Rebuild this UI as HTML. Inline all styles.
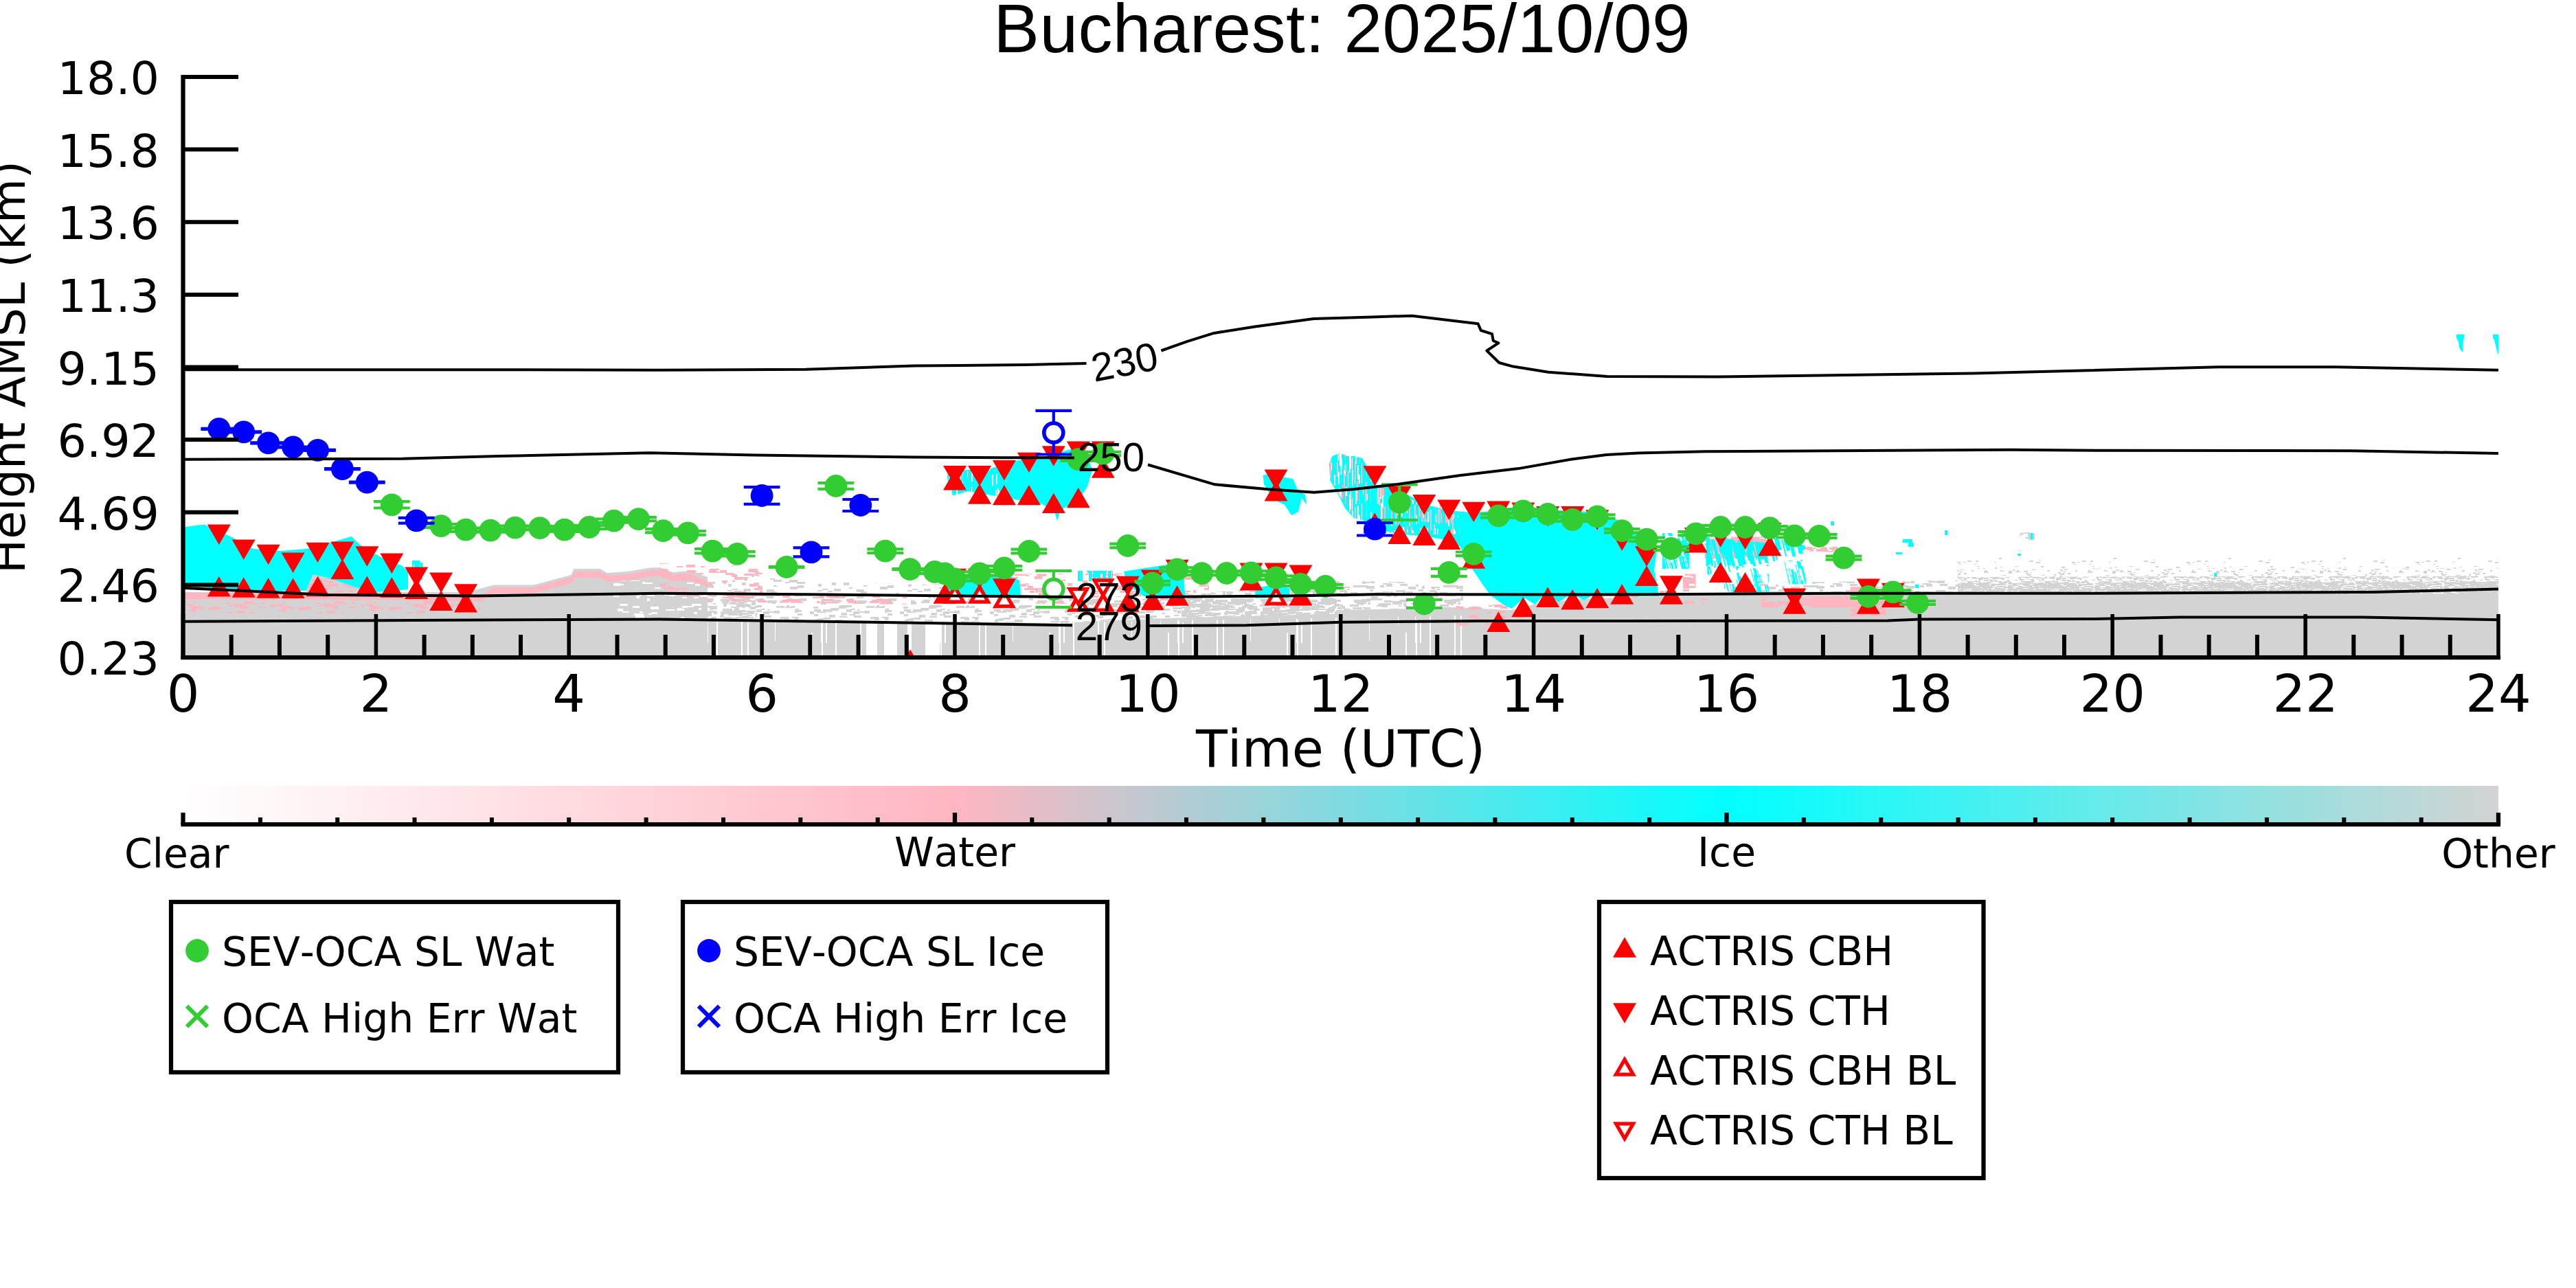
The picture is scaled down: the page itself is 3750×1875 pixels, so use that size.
<!DOCTYPE html>
<html><head><meta charset="utf-8"><title>Bucharest: 2025/10/09</title>
<style>
html,body{margin:0;padding:0;background:#fff;}
body{width:3750px;height:1875px;overflow:hidden;}
svg{display:block;}
text{font-family:"DejaVu Sans","Liberation Sans",sans-serif;fill:#000;font-kerning:none;}
.lib{font-family:"Liberation Sans",sans-serif;}
</style></head><body>
<svg width="3750" height="1875" viewBox="0 0 3750 1875">
<defs><clipPath id="axclip"><rect x="266.5" y="112.0" width="3370.5" height="845.0"/></clipPath>
<pattern id="p1" width="131" height="67" patternUnits="userSpaceOnUse" ><path fill="#d3d3d3" d="M50 6h9v2h-9zM12 46h5v4h-5zM116 64h13v2h-13zM11 55h7v2h-7zM30 11h10v2h-10zM7 15h12v3h-12zM80 7h7v4h-7zM50 6h13v4h-13zM71 17h7v2h-7zM18 15h8v3h-8zM71 23h13v3h-13zM73 24h5v4h-5zM70 8h9v2h-9zM79 26h13v2h-13zM68 54h11v4h-11zM74 58h9v3h-9zM31 23h9v3h-9zM73 38h7v2h-7zM112 43h12v3h-12zM77 9h11v3h-11zM53 21h5v4h-5zM119 62h9v2h-9zM85 9h10v2h-10zM101 40h12v4h-12zM44 63h9v4h-9zM8 11h13v3h-13zM89 8h8v3h-8zM79 57h4v4h-4zM49 44h8v4h-8zM90 21h4v3h-4zM63 7h13v2h-13zM16 31h7v3h-7zM117 63h10v3h-10zM57 51h5v2h-5zM113 17h12v3h-12zM35 53h10v4h-10zM113 48h9v4h-9zM10 22h7v2h-7zM84 29h6v2h-6zM46 33h4v3h-4zM18 53h8v2h-8zM78 40h12v3h-12zM109 6h6v4h-6zM102 50h11v4h-11zM50 13h10v3h-10zM51 7h11v4h-11zM26 56h7v2h-7zM43 6h6v2h-6zM72 19h5v2h-5zM46 3h12v2h-12zM78 48h5v2h-5zM32 44h6v4h-6zM60 15h13v3h-13zM125 59h5v3h-5zM39 10h11v3h-11zM95 43h6v2h-6zM106 20h8v3h-8z"/></pattern>
<pattern id="p2" width="131" height="67" patternUnits="userSpaceOnUse" ><path fill="#d3d3d3" d="M26 46h12v2h-12zM69 3h6v4h-6zM82 11h12v3h-12zM46 21h8v4h-8zM68 64h9v2h-9zM28 24h9v4h-9zM94 29h7v3h-7zM63 45h7v4h-7zM71 60h4v2h-4zM88 44h8v2h-8zM44 46h11v4h-11zM13 29h5v2h-5zM43 26h11v2h-11zM115 0h11v4h-11zM44 10h11v4h-11zM116 49h14v2h-14zM113 22h7v3h-7zM42 11h10v4h-10zM51 10h10v3h-10zM16 3h6v2h-6zM115 59h6v4h-6zM78 60h14v2h-14zM19 16h14v3h-14zM26 17h4v2h-4zM105 27h10v2h-10zM54 37h4v3h-4zM97 41h12v2h-12zM53 16h8v4h-8zM90 58h4v4h-4zM104 53h14v4h-14zM68 19h12v2h-12zM2 56h12v4h-12zM0 19h6v4h-6zM60 15h6v2h-6zM41 61h12v2h-12zM7 31h5v4h-5zM5 12h7v3h-7zM71 3h12v3h-12zM41 64h5v3h-5zM25 35h13v4h-13zM68 61h11v4h-11zM89 33h12v2h-12zM107 57h12v2h-12zM15 50h6v3h-6zM9 30h11v3h-11zM27 38h10v2h-10zM120 46h5v2h-5zM113 17h6v3h-6zM95 12h11v2h-11zM20 28h10v3h-10zM55 51h6v4h-6zM25 45h9v3h-9zM92 46h9v2h-9zM117 56h4v3h-4zM84 37h4v3h-4zM14 29h12v2h-12zM33 34h5v2h-5zM69 16h4v2h-4zM104 33h10v4h-10zM68 65h10v2h-10zM89 41h13v3h-13zM7 23h5v3h-5zM34 2h10v2h-10zM102 33h14v2h-14zM109 28h5v4h-5zM110 15h5v3h-5zM43 53h11v2h-11zM16 5h8v4h-8zM30 14h12v4h-12zM6 23h6v3h-6zM80 39h7v3h-7zM37 57h12v2h-12zM22 34h12v4h-12zM32 4h9v2h-9zM48 65h4v2h-4zM119 57h11v2h-11zM104 55h5v4h-5zM69 50h14v3h-14zM88 27h12v3h-12zM25 17h7v3h-7zM6 16h10v3h-10zM65 55h4v2h-4zM10 48h6v2h-6zM36 31h12v4h-12zM58 23h8v2h-8zM57 0h6v3h-6zM123 42h8v3h-8zM31 4h12v3h-12zM45 23h8v2h-8zM97 10h4v3h-4zM64 25h11v3h-11zM99 0h7v4h-7zM104 11h5v3h-5zM75 5h6v3h-6zM38 38h10v2h-10zM10 19h14v2h-14zM100 49h14v4h-14zM63 19h9v4h-9zM79 18h8v4h-8zM109 17h4v4h-4z"/></pattern>
<pattern id="p3" width="131" height="67" patternUnits="userSpaceOnUse" ><path fill="#d3d3d3" d="M72 2h12v4h-12zM102 29h14v4h-14zM5 17h5v2h-5zM13 48h14v3h-14zM6 2h11v4h-11zM87 31h14v4h-14zM0 58h11v3h-11zM119 11h5v4h-5zM8 60h14v4h-14zM108 33h8v2h-8zM96 26h7v4h-7zM83 58h7v4h-7zM9 61h11v3h-11zM98 5h14v3h-14zM82 25h13v4h-13zM18 42h5v4h-5zM95 38h8v4h-8zM17 1h13v4h-13zM62 34h11v2h-11zM88 27h14v2h-14zM37 36h14v3h-14zM59 15h11v3h-11zM39 10h12v2h-12zM37 58h11v2h-11zM123 57h5v4h-5zM26 26h8v3h-8zM11 18h5v4h-5zM46 16h12v3h-12zM65 35h13v4h-13zM46 29h5v4h-5zM50 3h11v3h-11zM121 62h6v2h-6zM51 38h14v3h-14zM44 48h6v3h-6zM107 42h9v2h-9zM86 50h4v3h-4zM91 1h5v2h-5zM47 8h8v3h-8zM111 9h10v3h-10zM96 35h9v3h-9zM26 6h4v3h-4zM81 19h14v3h-14zM55 40h7v3h-7zM100 54h7v3h-7zM102 26h4v4h-4zM119 52h5v2h-5zM96 17h11v4h-11zM62 6h14v3h-14zM21 60h12v2h-12zM36 38h10v3h-10zM94 33h8v4h-8zM30 38h10v4h-10zM85 50h11v4h-11zM82 20h5v2h-5zM64 63h5v2h-5zM57 42h12v2h-12zM17 24h11v3h-11zM22 43h7v2h-7zM40 30h12v2h-12zM103 25h9v3h-9zM105 49h4v4h-4zM67 26h10v4h-10zM43 7h10v3h-10zM73 46h11v3h-11zM64 27h6v4h-6zM114 31h5v3h-5zM82 57h10v3h-10zM108 2h10v3h-10zM54 60h6v2h-6zM0 9h13v3h-13zM109 59h10v4h-10zM100 13h11v2h-11zM19 13h7v2h-7zM10 5h14v3h-14zM59 4h4v2h-4zM38 16h14v4h-14zM67 55h14v3h-14zM9 38h5v2h-5zM24 49h12v4h-12zM101 0h8v2h-8zM77 58h4v4h-4zM82 31h8v3h-8zM30 31h11v4h-11zM78 7h4v3h-4zM127 53h4v2h-4zM29 54h5v3h-5zM63 4h9v2h-9zM53 46h9v4h-9zM25 0h14v3h-14zM108 8h8v4h-8zM124 25h7v3h-7zM29 59h8v2h-8zM97 37h7v3h-7zM63 23h5v4h-5zM53 7h7v3h-7zM118 50h13v2h-13zM6 18h4v2h-4zM90 7h10v2h-10zM57 40h6v3h-6zM119 21h5v2h-5zM23 59h9v2h-9zM96 47h4v3h-4zM21 13h9v3h-9zM71 10h4v2h-4zM122 15h9v3h-9zM48 45h12v2h-12zM11 6h8v3h-8zM47 57h11v2h-11zM46 60h7v3h-7zM105 31h4v4h-4zM5 48h14v3h-14zM16 7h4v3h-4zM95 8h8v2h-8zM46 34h13v3h-13zM5 33h9v4h-9zM38 0h9v3h-9zM8 3h13v4h-13zM60 59h7v2h-7zM116 55h10v3h-10zM118 63h11v2h-11zM102 38h6v2h-6zM30 41h6v4h-6zM46 10h9v3h-9zM50 20h12v2h-12zM8 4h7v3h-7zM69 41h11v4h-11zM113 13h6v3h-6zM79 10h5v3h-5zM53 63h7v2h-7zM29 17h11v2h-11zM79 30h10v3h-10zM97 15h12v4h-12zM35 34h8v3h-8zM94 33h9v3h-9zM31 23h7v3h-7zM19 36h7v2h-7zM41 8h13v2h-13zM31 64h10v3h-10zM83 12h12v2h-12zM4 13h14v3h-14zM59 57h4v3h-4zM112 37h9v2h-9zM6 24h7v2h-7z"/></pattern>
<pattern id="p4" width="131" height="67" patternUnits="userSpaceOnUse" ><path fill="#d3d3d3" d="M24 9h13v4h-13zM110 22h9v4h-9zM33 0h11v4h-11zM76 44h5v4h-5zM47 43h7v2h-7zM26 32h6v2h-6zM52 1h4v4h-4zM86 47h9v3h-9zM39 9h6v4h-6zM101 63h7v2h-7zM8 52h12v3h-12zM84 19h5v3h-5zM11 20h14v4h-14zM34 52h10v4h-10zM39 53h8v4h-8zM91 53h4v3h-4zM110 46h10v2h-10zM50 51h14v2h-14zM55 20h7v2h-7zM105 11h10v2h-10zM113 46h10v4h-10zM16 1h11v2h-11zM36 50h4v4h-4zM79 47h5v4h-5zM18 44h12v2h-12zM66 21h8v2h-8zM49 62h5v2h-5zM16 5h7v3h-7zM6 49h11v3h-11zM79 20h5v4h-5zM79 51h14v2h-14zM106 60h13v2h-13zM27 5h6v4h-6zM20 49h10v4h-10zM19 31h9v2h-9zM113 4h7v2h-7zM15 49h14v3h-14zM70 39h13v3h-13zM39 31h14v3h-14zM84 47h10v3h-10zM56 22h11v4h-11zM125 59h4v2h-4zM97 58h7v3h-7zM51 13h6v3h-6zM45 55h5v2h-5zM102 56h9v2h-9zM84 5h12v4h-12zM33 10h4v4h-4zM65 10h9v4h-9zM96 17h4v4h-4zM28 24h4v2h-4zM36 21h6v3h-6zM28 8h14v4h-14zM96 32h9v4h-9zM114 35h6v3h-6zM32 64h11v2h-11zM75 33h11v2h-11zM30 40h13v4h-13zM25 23h9v2h-9zM81 35h10v2h-10zM114 48h14v3h-14zM14 6h6v3h-6zM111 57h14v3h-14zM74 13h12v4h-12zM80 50h8v4h-8zM48 47h9v3h-9zM46 42h13v2h-13zM29 22h5v3h-5zM6 37h13v4h-13zM39 40h12v3h-12zM8 28h4v4h-4zM78 55h6v3h-6zM46 6h10v4h-10zM29 5h6v3h-6zM0 45h4v2h-4zM66 45h8v2h-8zM52 38h12v2h-12zM26 46h13v2h-13zM20 17h13v3h-13zM38 57h4v2h-4zM81 18h5v2h-5zM51 33h14v3h-14zM89 56h4v2h-4zM93 63h13v4h-13zM115 0h7v2h-7zM6 51h4v2h-4zM20 7h6v2h-6zM78 25h5v2h-5zM25 64h6v3h-6zM53 22h14v4h-14zM8 38h12v3h-12zM113 61h14v2h-14zM48 55h12v2h-12zM94 57h11v2h-11zM13 33h6v2h-6zM4 15h7v4h-7zM118 33h9v4h-9zM111 33h4v3h-4zM118 27h8v4h-8zM1 21h5v4h-5zM107 25h8v2h-8zM117 41h6v4h-6zM42 30h7v3h-7zM117 60h10v4h-10zM89 0h11v4h-11zM59 39h4v3h-4zM79 9h7v3h-7zM18 4h13v2h-13zM27 20h4v2h-4zM89 3h9v2h-9zM35 5h4v2h-4zM5 8h5v4h-5zM25 8h13v3h-13zM31 26h10v2h-10zM4 4h7v2h-7zM105 36h14v2h-14zM16 12h11v2h-11zM37 40h14v2h-14zM33 2h9v3h-9zM119 36h9v3h-9zM94 41h4v4h-4zM60 36h13v4h-13zM3 52h13v4h-13zM25 44h4v3h-4zM6 27h11v4h-11zM104 36h5v4h-5zM0 25h6v3h-6zM0 44h8v2h-8zM62 23h11v2h-11zM44 33h11v4h-11zM36 27h13v2h-13zM21 14h7v3h-7zM62 13h14v2h-14zM45 12h14v3h-14zM114 11h10v3h-10zM3 47h10v4h-10zM33 54h7v3h-7zM21 48h12v4h-12zM58 16h14v2h-14zM96 4h12v4h-12zM41 19h9v4h-9zM70 41h11v4h-11zM56 32h6v3h-6zM16 42h13v2h-13zM113 30h11v4h-11zM34 38h12v2h-12zM92 19h13v2h-13zM41 44h7v4h-7zM41 24h6v2h-6zM13 21h8v4h-8zM25 49h14v2h-14zM101 38h6v2h-6zM35 25h8v3h-8zM116 13h5v4h-5zM113 49h8v2h-8zM1 51h11v2h-11zM28 37h10v4h-10zM18 32h11v2h-11zM51 0h13v4h-13zM89 53h7v3h-7zM92 29h7v4h-7zM82 15h14v2h-14zM40 33h11v3h-11zM12 53h14v4h-14zM91 20h7v3h-7zM61 58h8v3h-8zM104 23h4v4h-4zM99 1h14v3h-14zM116 13h10v3h-10zM55 20h4v3h-4zM44 12h7v4h-7zM69 26h13v3h-13zM2 47h11v4h-11zM52 58h12v3h-12zM23 50h7v4h-7zM93 45h12v2h-12zM32 35h14v2h-14zM7 1h10v3h-10zM117 53h5v3h-5zM86 45h14v4h-14zM13 28h13v3h-13zM51 28h8v4h-8zM27 21h10v3h-10zM103 24h6v2h-6zM71 28h11v4h-11zM85 52h6v3h-6zM97 16h11v3h-11zM100 29h11v3h-11zM48 32h8v4h-8zM23 61h10v4h-10zM71 45h4v4h-4zM38 41h7v4h-7zM54 10h11v3h-11zM19 38h14v3h-14zM10 41h10v2h-10zM106 44h6v4h-6zM1 1h14v4h-14zM83 37h7v2h-7zM12 18h8v4h-8zM99 57h7v2h-7zM26 51h9v2h-9zM78 11h12v2h-12zM100 38h14v4h-14zM88 27h7v3h-7zM94 56h12v2h-12zM71 15h14v2h-14zM29 17h8v3h-8zM71 7h11v3h-11zM115 18h11v3h-11zM63 21h11v2h-11zM110 0h12v4h-12zM59 63h6v3h-6zM107 59h14v3h-14zM53 9h9v3h-9zM46 3h6v4h-6zM11 42h4v4h-4zM61 62h5v4h-5zM27 53h6v2h-6zM43 12h14v2h-14zM43 60h14v3h-14zM98 26h12v4h-12zM43 54h8v3h-8zM6 37h8v4h-8zM105 63h8v3h-8zM64 34h10v3h-10zM26 63h12v3h-12zM24 40h5v3h-5zM75 11h8v2h-8zM103 6h4v3h-4zM13 0h10v3h-10zM121 7h4v2h-4zM78 48h12v4h-12zM80 10h13v2h-13zM85 58h7v2h-7zM12 23h14v2h-14zM25 1h4v3h-4zM100 39h9v2h-9zM33 38h12v4h-12zM4 40h6v3h-6zM13 63h4v3h-4zM5 15h13v4h-13zM89 51h10v4h-10zM1 49h11v2h-11zM84 19h13v4h-13zM70 13h11v3h-11zM60 27h5v4h-5zM1 54h6v4h-6zM31 11h4v2h-4zM16 60h7v2h-7zM62 57h4v3h-4zM46 18h6v2h-6zM80 63h5v3h-5zM119 32h11v4h-11zM8 1h4v4h-4zM20 49h4v2h-4zM93 21h8v3h-8zM7 40h11v4h-11zM93 56h9v4h-9zM21 18h11v4h-11zM122 20h5v3h-5zM61 49h14v3h-14zM100 42h11v3h-11zM7 42h8v3h-8zM1 19h13v4h-13zM74 54h13v3h-13zM49 48h7v3h-7zM103 57h13v2h-13zM0 41h8v4h-8zM54 20h8v3h-8zM36 18h13v2h-13zM35 63h13v2h-13zM10 62h9v4h-9zM100 29h10v2h-10zM7 50h8v4h-8zM26 32h11v4h-11zM101 49h13v2h-13zM11 45h11v4h-11zM50 33h5v2h-5zM61 64h12v3h-12zM24 27h13v2h-13zM23 37h7v2h-7zM72 45h9v4h-9zM109 19h10v4h-10zM118 63h7v2h-7zM47 59h9v2h-9zM40 3h5v2h-5zM66 2h9v3h-9zM26 62h5v2h-5zM27 33h13v4h-13zM12 57h8v3h-8zM16 32h13v4h-13zM51 23h4v3h-4zM3 6h10v2h-10zM94 58h4v4h-4zM110 50h11v2h-11zM122 11h5v4h-5zM72 29h8v3h-8z"/></pattern>
<pattern id="p5" width="131" height="67" patternUnits="userSpaceOnUse" ><path fill="#d3d3d3" d="M117 64h14v2h-14zM57 20h10v2h-10zM92 28h9v2h-9zM120 32h6v2h-6zM115 3h9v2h-9zM123 7h4v3h-4zM40 0h5v2h-5zM95 38h7v4h-7zM56 13h13v4h-13zM47 32h11v3h-11zM47 61h10v2h-10zM56 30h10v2h-10zM114 1h6v4h-6zM116 24h11v4h-11zM56 9h4v2h-4zM113 17h13v3h-13zM118 49h11v2h-11zM19 57h4v4h-4zM105 29h9v3h-9zM80 46h11v2h-11zM28 7h6v3h-6zM57 18h6v4h-6zM34 53h11v2h-11zM19 3h10v2h-10zM107 37h8v4h-8zM33 62h9v2h-9zM58 61h5v3h-5zM125 65h5v2h-5zM54 61h4v4h-4zM32 25h8v2h-8zM33 30h9v3h-9zM49 37h7v2h-7zM7 37h10v2h-10zM2 56h6v4h-6zM65 17h12v3h-12zM101 36h11v2h-11zM55 5h6v3h-6zM35 23h10v2h-10zM66 29h6v2h-6zM76 10h6v2h-6zM93 63h5v4h-5zM26 17h8v2h-8zM90 24h13v4h-13zM25 1h13v3h-13zM93 52h5v4h-5zM88 42h4v4h-4zM110 63h8v4h-8zM52 61h5v2h-5zM34 31h6v4h-6zM106 46h6v4h-6zM95 0h4v2h-4zM119 57h9v4h-9zM15 45h12v2h-12zM99 48h7v3h-7zM37 13h13v2h-13zM65 3h11v3h-11zM17 2h12v4h-12zM28 23h7v2h-7zM39 32h6v2h-6zM2 12h12v2h-12zM2 59h7v3h-7zM89 56h12v2h-12zM111 12h5v3h-5zM34 15h6v2h-6zM74 64h11v3h-11zM15 15h8v2h-8zM69 29h10v2h-10zM85 59h7v2h-7zM121 2h10v2h-10zM88 53h14v3h-14zM67 4h13v4h-13zM99 46h10v2h-10zM30 42h9v3h-9zM102 41h10v4h-10zM6 41h10v4h-10zM87 45h12v2h-12zM84 1h7v3h-7zM67 23h9v2h-9zM55 25h5v3h-5zM2 28h12v4h-12zM124 50h6v3h-6zM5 5h11v4h-11zM68 34h4v4h-4zM103 4h14v4h-14zM32 15h13v2h-13zM55 30h12v2h-12zM28 39h4v3h-4zM21 15h9v4h-9zM68 10h4v4h-4zM68 18h11v4h-11zM65 16h11v2h-11zM73 36h8v3h-8zM94 11h8v2h-8zM107 58h12v3h-12zM72 28h13v4h-13zM25 46h14v3h-14zM38 61h11v4h-11zM3 31h11v3h-11zM24 65h9v2h-9zM74 50h12v3h-12zM41 30h4v3h-4zM41 62h9v4h-9zM112 27h8v3h-8zM98 2h8v2h-8zM8 44h6v4h-6zM7 49h11v4h-11zM94 13h11v3h-11zM86 19h12v2h-12zM85 45h10v3h-10zM25 35h6v4h-6zM94 60h12v2h-12zM90 16h8v4h-8zM0 52h10v2h-10zM15 63h12v4h-12zM19 53h10v4h-10zM77 14h8v4h-8zM88 58h10v3h-10zM45 37h8v4h-8zM67 49h9v3h-9zM0 63h14v3h-14zM38 23h10v3h-10zM102 18h12v3h-12zM48 29h10v4h-10zM41 31h5v3h-5zM54 1h9v2h-9zM65 63h4v2h-4zM99 39h8v4h-8zM55 55h12v4h-12zM45 5h10v3h-10zM44 57h13v4h-13zM17 29h4v4h-4zM47 64h5v3h-5zM71 19h10v4h-10zM62 51h7v3h-7zM115 43h11v4h-11zM104 11h12v4h-12zM40 46h6v3h-6zM65 22h5v3h-5zM114 37h5v4h-5zM113 53h9v4h-9zM67 37h14v2h-14zM64 24h12v2h-12zM7 13h10v2h-10zM80 5h9v4h-9zM100 0h10v2h-10zM88 0h8v4h-8zM107 12h8v3h-8zM85 3h13v2h-13zM63 34h7v2h-7zM65 18h14v4h-14zM52 15h13v2h-13zM66 65h6v2h-6zM12 9h5v2h-5zM62 59h6v4h-6zM103 7h13v3h-13zM87 41h14v2h-14zM30 45h6v4h-6zM4 34h8v2h-8zM109 8h14v2h-14zM57 49h9v2h-9zM56 50h4v2h-4zM56 6h13v2h-13zM31 28h13v2h-13zM44 40h4v2h-4zM77 53h4v3h-4zM113 63h13v3h-13zM86 49h5v2h-5zM74 28h14v4h-14zM51 62h10v3h-10zM22 22h4v2h-4zM48 23h6v3h-6zM101 46h4v3h-4zM68 49h5v3h-5zM83 8h9v3h-9zM105 44h5v3h-5zM49 24h12v2h-12zM44 30h11v3h-11zM35 3h10v2h-10zM30 16h9v2h-9zM34 16h5v2h-5zM59 30h12v3h-12zM45 27h6v3h-6zM80 26h10v3h-10zM64 26h8v3h-8zM86 16h7v3h-7zM115 56h8v4h-8zM68 31h13v3h-13zM65 27h10v4h-10zM86 65h6v2h-6zM109 34h5v4h-5zM84 18h10v2h-10zM49 11h8v2h-8zM41 24h6v2h-6zM8 46h14v2h-14zM24 8h12v3h-12zM28 36h8v2h-8zM51 36h6v4h-6zM108 59h9v3h-9zM110 16h14v4h-14zM3 46h8v2h-8zM88 44h14v4h-14zM84 59h10v2h-10zM45 12h7v3h-7zM14 34h6v3h-6zM28 5h13v4h-13zM77 20h10v2h-10zM96 38h10v2h-10zM94 5h6v3h-6zM80 22h12v3h-12zM72 63h13v2h-13zM118 55h12v3h-12zM73 44h14v4h-14zM73 5h4v2h-4zM89 6h13v4h-13zM14 4h7v4h-7zM99 44h9v2h-9zM88 50h5v3h-5zM35 11h13v2h-13zM56 43h9v3h-9zM88 57h12v4h-12zM86 26h12v2h-12zM65 16h10v4h-10zM5 33h11v2h-11zM20 30h6v4h-6zM31 7h12v3h-12zM44 52h6v3h-6zM81 39h5v2h-5zM87 62h6v2h-6zM30 30h14v3h-14zM113 17h4v4h-4zM89 38h14v3h-14zM18 30h6v4h-6zM104 15h9v4h-9zM97 21h12v3h-12zM19 59h14v4h-14zM14 37h10v2h-10zM124 26h4v3h-4zM71 38h4v2h-4zM89 39h7v2h-7zM20 41h11v2h-11zM72 46h11v3h-11zM71 9h8v2h-8zM119 62h4v2h-4zM91 42h5v4h-5zM13 62h13v3h-13zM24 41h10v3h-10zM23 36h4v3h-4zM93 32h14v4h-14zM10 17h14v2h-14zM101 18h4v2h-4zM23 21h8v3h-8zM106 39h5v4h-5zM48 23h13v3h-13zM40 29h14v3h-14zM70 47h9v2h-9zM7 5h8v2h-8zM102 51h5v4h-5zM126 54h4v2h-4zM20 38h11v4h-11zM80 10h13v4h-13zM29 20h6v4h-6zM81 51h6v3h-6zM108 56h5v2h-5zM27 47h11v2h-11zM108 18h4v2h-4zM84 7h8v2h-8zM53 43h12v4h-12zM1 22h5v3h-5zM37 0h6v3h-6zM86 44h11v4h-11zM60 10h13v2h-13zM66 58h12v3h-12zM116 19h10v4h-10zM79 10h10v4h-10zM84 38h4v4h-4zM53 47h13v4h-13zM82 17h11v4h-11zM67 3h8v3h-8zM86 57h7v2h-7zM84 47h5v2h-5zM53 46h12v4h-12zM72 56h12v2h-12zM14 29h10v3h-10zM70 14h6v2h-6zM83 12h7v3h-7zM85 32h7v4h-7zM70 58h11v2h-11zM73 14h7v4h-7zM72 10h12v4h-12zM9 56h10v4h-10zM70 14h6v4h-6zM65 13h14v4h-14zM50 21h11v4h-11zM60 11h7v4h-7zM99 7h6v3h-6zM6 47h10v2h-10zM54 58h4v2h-4zM90 17h8v2h-8zM79 25h10v2h-10zM117 45h13v2h-13zM95 43h6v3h-6zM105 32h14v2h-14zM47 65h5v2h-5zM92 62h12v3h-12zM90 12h4v4h-4zM41 14h9v4h-9zM62 32h4v4h-4zM88 57h9v2h-9zM112 14h4v4h-4zM28 9h4v3h-4zM19 37h8v2h-8zM48 18h14v4h-14zM68 34h13v3h-13zM3 43h11v2h-11zM64 61h6v3h-6zM19 23h4v2h-4zM86 50h13v4h-13zM88 57h11v2h-11zM111 9h10v2h-10zM67 27h9v3h-9zM75 5h8v2h-8zM104 46h7v2h-7zM73 59h11v3h-11zM40 0h10v3h-10zM61 42h9v4h-9zM31 58h7v2h-7zM80 18h13v2h-13zM34 49h14v2h-14zM64 33h8v2h-8zM73 17h9v4h-9zM24 25h4v4h-4zM73 12h10v4h-10zM101 30h9v3h-9zM9 38h6v4h-6zM46 31h9v4h-9zM91 51h9v4h-9zM90 43h9v2h-9zM113 61h14v3h-14zM114 31h12v3h-12zM19 17h7v3h-7zM113 58h7v2h-7zM50 38h10v3h-10zM8 18h6v4h-6zM39 32h8v4h-8zM84 43h13v4h-13zM74 10h5v2h-5zM38 45h13v2h-13zM99 54h11v3h-11zM40 22h5v3h-5zM69 2h8v3h-8zM34 30h6v4h-6zM12 51h4v2h-4zM114 36h11v2h-11zM12 25h12v4h-12zM7 16h7v4h-7zM10 9h13v2h-13zM92 17h13v3h-13zM69 1h4v2h-4zM3 27h14v3h-14zM111 3h9v3h-9zM51 43h14v3h-14zM110 53h6v2h-6zM85 63h4v2h-4zM32 59h13v3h-13zM81 40h4v2h-4zM84 20h4v3h-4zM19 26h5v2h-5zM98 11h6v4h-6zM54 44h9v3h-9zM75 19h12v4h-12zM73 42h14v4h-14zM79 33h7v4h-7zM99 39h11v2h-11zM90 58h14v4h-14zM46 35h12v3h-12zM1 60h6v3h-6zM103 46h5v4h-5zM29 51h6v4h-6zM79 17h5v2h-5zM69 64h5v2h-5zM99 23h7v4h-7zM46 19h8v4h-8zM109 20h6v4h-6zM44 31h12v2h-12zM27 44h11v3h-11zM27 41h10v3h-10zM3 8h4v2h-4zM86 44h14v3h-14zM96 52h4v2h-4zM80 28h10v4h-10zM5 33h4v3h-4zM29 45h10v2h-10zM97 54h7v3h-7zM38 63h14v3h-14zM101 20h7v4h-7zM96 17h11v3h-11zM11 42h8v3h-8zM63 20h4v3h-4zM78 57h9v4h-9zM6 26h7v4h-7zM99 56h9v2h-9zM110 17h6v3h-6zM3 14h8v4h-8zM17 38h6v2h-6zM94 45h6v4h-6zM59 50h5v2h-5zM43 50h5v3h-5zM74 30h9v2h-9zM88 1h7v4h-7zM59 55h4v2h-4zM2 6h5v4h-5zM112 14h9v2h-9zM124 17h5v3h-5zM0 22h12v3h-12zM69 18h7v4h-7zM69 14h14v4h-14zM107 63h12v3h-12zM124 27h5v3h-5zM9 34h7v4h-7zM33 34h6v2h-6zM25 65h5v2h-5zM92 34h4v3h-4zM10 58h4v3h-4zM70 42h12v3h-12zM91 34h10v4h-10zM40 53h10v3h-10zM49 49h10v2h-10zM114 0h10v2h-10zM64 32h7v4h-7zM48 30h13v4h-13zM14 11h7v4h-7zM116 6h13v2h-13zM71 41h10v4h-10zM56 40h14v4h-14zM0 60h11v4h-11zM65 43h14v3h-14zM48 30h13v4h-13zM111 48h14v4h-14zM8 50h9v4h-9zM78 41h12v3h-12zM102 28h5v4h-5zM33 60h13v3h-13zM75 61h9v4h-9zM18 8h13v2h-13zM67 26h12v3h-12zM104 46h12v2h-12zM22 19h7v4h-7zM22 5h14v3h-14zM46 54h9v3h-9zM19 32h5v3h-5zM46 45h10v2h-10zM66 38h14v4h-14zM11 35h11v4h-11zM57 14h10v3h-10zM61 22h11v4h-11zM0 16h12v2h-12zM66 30h9v3h-9zM66 43h13v3h-13zM2 25h10v3h-10zM66 7h4v4h-4zM39 35h13v2h-13zM30 33h9v3h-9zM67 63h11v2h-11zM16 54h5v2h-5zM99 47h8v4h-8zM113 48h4v4h-4zM91 37h9v2h-9zM82 32h10v3h-10zM49 16h9v2h-9zM109 47h13v2h-13zM26 42h5v4h-5zM96 57h5v2h-5zM67 53h10v3h-10zM96 3h11v4h-11zM72 59h5v4h-5zM107 55h11v4h-11zM22 8h10v3h-10zM62 17h11v3h-11zM85 29h12v2h-12zM69 5h7v3h-7zM70 42h14v3h-14zM15 11h10v3h-10zM73 1h7v2h-7zM11 27h5v3h-5zM7 25h13v3h-13zM110 7h9v3h-9zM95 53h12v4h-12zM52 6h13v2h-13zM41 42h14v2h-14zM0 23h7v4h-7zM66 33h12v3h-12zM49 32h5v3h-5zM71 50h14v3h-14zM87 6h12v3h-12zM31 48h8v3h-8zM32 39h10v4h-10zM6 26h7v2h-7zM47 59h12v4h-12zM90 18h14v3h-14zM25 58h9v3h-9zM6 40h12v4h-12zM17 52h4v4h-4zM4 35h13v3h-13zM37 25h7v3h-7zM78 58h7v4h-7zM56 26h10v4h-10zM23 55h7v2h-7zM6 17h14v2h-14zM63 23h5v4h-5zM42 63h4v4h-4zM92 37h7v4h-7zM107 20h7v4h-7zM26 12h6v4h-6zM25 11h11v2h-11zM57 32h4v3h-4zM54 19h11v4h-11zM34 5h4v4h-4zM37 29h6v3h-6zM90 19h13v3h-13zM41 27h8v3h-8zM125 29h6v4h-6zM41 48h10v2h-10zM37 28h6v4h-6zM88 11h14v4h-14zM19 23h7v3h-7zM86 51h10v3h-10zM106 45h5v2h-5zM118 26h5v4h-5zM67 9h14v4h-14zM44 2h8v3h-8z"/></pattern>
<pattern id="p6" width="131" height="67" patternUnits="userSpaceOnUse" ><path fill="#fff" d="M25 62h11v2h-11zM76 11h8v3h-8zM60 34h7v2h-7zM118 38h7v4h-7zM25 0h4v4h-4zM120 19h9v2h-9zM6 22h14v3h-14zM57 61h9v3h-9zM95 46h7v3h-7zM100 38h6v2h-6zM71 58h5v4h-5zM70 14h5v4h-5zM50 59h6v4h-6zM10 65h4v2h-4zM52 16h13v2h-13zM107 45h10v4h-10zM93 20h5v3h-5zM84 11h9v2h-9zM107 61h9v2h-9zM33 12h8v2h-8zM14 19h5v2h-5zM68 15h11v3h-11zM31 20h9v3h-9zM5 32h13v4h-13zM36 51h9v2h-9zM16 30h12v2h-12zM30 12h12v4h-12zM13 62h4v2h-4zM88 29h13v2h-13zM19 33h5v2h-5zM100 14h4v3h-4zM113 15h8v4h-8zM74 27h5v4h-5zM76 65h7v2h-7zM18 43h4v2h-4zM27 22h5v2h-5zM10 59h8v3h-8zM1 40h13v2h-13zM4 11h10v3h-10zM93 65h7v2h-7zM19 44h14v2h-14zM25 28h6v2h-6zM90 8h14v3h-14zM9 63h4v3h-4zM116 8h12v3h-12zM8 25h13v4h-13zM108 46h14v2h-14zM83 44h10v2h-10zM102 63h13v2h-13z"/></pattern>
<pattern id="p7" width="131" height="67" patternUnits="userSpaceOnUse" ><path fill="#fff" d="M63 17h14v4h-14zM119 38h8v4h-8zM119 21h4v4h-4zM105 38h10v3h-10zM83 14h13v4h-13zM96 29h5v3h-5zM75 58h7v2h-7zM112 63h12v2h-12zM113 6h13v4h-13zM100 50h10v4h-10zM99 43h14v4h-14zM121 11h10v3h-10zM86 43h7v4h-7zM115 54h14v4h-14zM38 62h8v2h-8zM14 60h13v2h-13zM77 38h10v3h-10zM42 27h11v2h-11zM50 59h5v3h-5zM37 42h13v2h-13zM23 56h5v3h-5zM68 30h10v4h-10zM87 5h5v2h-5zM49 34h10v2h-10zM46 21h9v2h-9zM113 50h7v3h-7zM40 64h8v3h-8zM109 20h13v2h-13zM1 0h10v4h-10zM120 31h6v2h-6zM103 32h11v4h-11zM12 48h9v4h-9zM85 53h6v3h-6zM79 42h5v4h-5zM37 46h11v3h-11zM90 48h8v4h-8zM7 63h12v4h-12zM88 2h11v3h-11zM30 48h4v4h-4zM96 19h11v3h-11zM58 4h13v4h-13zM17 0h9v3h-9zM24 65h8v2h-8zM44 35h4v3h-4zM37 3h14v2h-14zM52 10h10v4h-10zM48 63h14v4h-14zM115 35h9v4h-9zM106 63h9v2h-9zM88 17h4v4h-4zM103 7h7v4h-7zM94 21h6v3h-6zM116 6h14v3h-14zM49 46h13v3h-13zM39 60h6v3h-6zM41 56h7v4h-7zM87 33h10v2h-10zM40 49h9v3h-9zM14 26h11v3h-11zM64 52h13v3h-13zM99 40h14v2h-14zM71 60h4v2h-4zM108 52h14v4h-14zM50 46h5v3h-5zM103 36h10v4h-10zM33 57h14v2h-14zM78 45h4v2h-4zM33 31h13v3h-13zM12 52h5v4h-5zM21 22h5v3h-5zM88 15h14v4h-14zM107 43h10v3h-10zM63 43h10v3h-10zM91 18h9v2h-9zM66 52h12v4h-12zM17 27h14v3h-14zM8 52h9v4h-9zM0 30h5v4h-5zM51 27h13v3h-13zM35 16h13v4h-13zM85 30h6v2h-6zM114 36h12v2h-12zM97 36h4v4h-4zM90 49h6v4h-6zM91 8h13v3h-13zM105 34h13v4h-13zM115 28h13v2h-13zM46 10h8v2h-8zM89 9h9v2h-9zM27 0h5v3h-5zM97 17h11v4h-11zM64 7h11v3h-11zM71 4h11v4h-11zM119 14h4v4h-4zM37 43h11v2h-11zM72 29h9v4h-9zM101 26h7v4h-7zM68 3h8v4h-8zM3 64h7v2h-7zM47 8h8v3h-8zM92 11h14v3h-14zM51 49h13v2h-13zM52 28h12v4h-12zM102 47h14v2h-14zM84 32h12v3h-12zM61 17h5v4h-5z"/></pattern>
<pattern id="p8" width="173" height="97" patternUnits="userSpaceOnUse" ><path fill="#fff" d="M158 29h2v59h-2zM157 12h1v51h-1zM42 18h1v55h-1zM132 2h1v34h-1zM50 6h2v79h-2zM143 48h2v42h-2zM5 19h2v77h-2zM90 26h1v34h-1zM164 33h2v30h-2zM41 18h2v70h-2z"/></pattern>
<pattern id="p9" width="109" height="200" patternUnits="userSpaceOnUse" ><path fill="#fff" d="M39 6h13v165h-13zM88 22h4v142h-4zM91 58h16v123h-16zM13 9h6v163h-6zM62 2h14v180h-14zM60 8h13v160h-13zM72 4h6v187h-6zM45 16h15v146h-15z"/></pattern>
<pattern id="p10" width="131" height="67" patternUnits="userSpaceOnUse" ><path fill="#ffb6c1" d="M116 24h14v2h-14zM55 49h8v4h-8zM17 17h6v3h-6zM54 48h4v2h-4zM22 59h4v2h-4zM18 41h4v2h-4zM71 59h9v4h-9zM115 26h11v4h-11zM52 45h4v2h-4zM12 16h10v2h-10zM58 56h7v3h-7zM92 6h5v4h-5zM51 30h11v2h-11zM88 60h14v3h-14zM15 63h13v2h-13zM8 30h13v3h-13zM50 28h7v2h-7zM94 4h14v4h-14zM116 25h7v2h-7zM119 6h4v2h-4zM120 28h10v2h-10zM71 52h14v2h-14zM19 59h8v2h-8zM26 12h4v3h-4zM103 20h6v2h-6zM41 13h13v4h-13zM117 0h12v3h-12zM71 10h5v2h-5zM79 9h12v4h-12zM74 58h4v4h-4zM0 26h10v4h-10zM117 26h4v2h-4zM83 26h5v4h-5zM14 11h14v3h-14zM45 12h12v4h-12zM30 12h5v4h-5zM35 38h5v3h-5zM18 63h8v3h-8zM42 24h13v4h-13zM19 5h4v2h-4zM88 27h5v4h-5zM58 52h12v3h-12zM83 26h13v4h-13zM107 7h5v2h-5zM34 55h4v4h-4zM75 56h4v2h-4zM17 32h8v4h-8zM3 41h8v3h-8zM20 56h10v2h-10zM83 60h6v4h-6zM35 31h13v3h-13zM5 43h4v3h-4zM113 45h7v4h-7zM98 30h9v2h-9zM68 20h9v2h-9zM105 40h5v2h-5zM43 46h10v4h-10zM15 58h5v4h-5zM67 6h6v2h-6zM68 31h14v4h-14zM88 11h10v4h-10zM27 36h14v2h-14zM66 55h4v4h-4zM78 56h5v2h-5zM21 36h13v4h-13zM43 32h10v2h-10zM53 33h4v2h-4zM82 18h13v4h-13zM76 8h14v2h-14zM9 8h10v3h-10zM1 9h5v4h-5zM18 14h9v2h-9zM65 35h11v4h-11zM115 12h11v2h-11zM50 52h8v3h-8zM93 12h6v3h-6zM41 26h11v3h-11zM57 13h4v3h-4z"/></pattern>
<pattern id="p11" width="131" height="67" patternUnits="userSpaceOnUse" ><path fill="#ffb6c1" d="M85 42h7v3h-7zM1 24h8v4h-8zM20 39h5v2h-5zM23 5h14v3h-14zM12 7h6v3h-6zM83 11h10v3h-10zM28 7h13v4h-13zM1 34h5v3h-5zM46 22h6v3h-6zM100 32h6v3h-6zM21 14h9v3h-9zM36 48h7v2h-7zM49 28h4v2h-4zM30 60h10v3h-10zM6 12h8v2h-8zM107 47h14v3h-14zM3 60h7v3h-7zM14 14h11v3h-11zM91 62h11v4h-11zM15 62h5v3h-5zM116 29h11v2h-11zM7 15h10v3h-10zM34 46h7v2h-7zM30 43h11v3h-11zM9 65h12v2h-12zM95 27h7v3h-7zM111 48h13v4h-13zM120 55h5v2h-5zM30 21h12v2h-12zM27 12h12v3h-12zM33 59h5v3h-5zM16 9h11v4h-11zM40 12h11v4h-11zM84 46h7v3h-7zM90 60h5v2h-5zM23 1h11v3h-11zM103 3h14v4h-14zM87 4h14v3h-14zM29 63h12v4h-12zM17 46h14v4h-14zM102 41h6v3h-6zM46 29h4v3h-4zM117 10h4v4h-4zM108 4h11v2h-11zM17 24h8v3h-8zM40 25h8v4h-8zM3 21h5v3h-5zM123 29h4v3h-4zM47 62h5v3h-5zM79 27h14v2h-14zM25 39h7v3h-7zM28 41h11v3h-11zM45 43h4v3h-4zM90 2h10v4h-10zM98 20h13v3h-13zM19 33h7v2h-7zM60 49h13v3h-13zM30 15h6v3h-6zM19 17h8v3h-8zM74 41h12v2h-12zM59 54h4v2h-4zM74 57h6v2h-6zM113 28h10v3h-10zM34 52h6v4h-6zM55 13h5v2h-5zM18 36h4v3h-4zM53 9h6v2h-6zM108 38h12v3h-12zM90 14h14v4h-14zM63 47h11v2h-11zM24 55h12v4h-12zM114 32h5v4h-5zM23 32h13v3h-13zM52 46h14v2h-14zM86 9h12v3h-12zM120 27h4v4h-4zM102 1h14v3h-14zM43 23h11v3h-11zM100 29h11v3h-11zM26 52h10v2h-10zM115 29h10v2h-10zM90 46h9v4h-9zM63 46h10v4h-10zM81 27h6v2h-6zM4 65h8v2h-8zM78 53h6v3h-6zM60 58h14v2h-14zM69 45h9v4h-9zM97 55h9v4h-9zM103 61h9v2h-9zM41 50h4v4h-4zM80 37h9v2h-9zM26 31h12v4h-12zM47 38h13v2h-13zM20 8h14v3h-14zM108 5h13v3h-13zM76 52h7v2h-7zM3 8h12v3h-12zM21 31h4v2h-4zM58 22h4v2h-4zM100 30h8v4h-8zM29 10h4v2h-4zM19 60h5v2h-5zM66 44h9v2h-9zM53 61h9v3h-9zM7 10h8v3h-8zM33 11h8v2h-8zM6 33h5v4h-5zM42 43h6v4h-6zM18 24h12v3h-12zM103 6h13v4h-13zM54 49h6v4h-6zM2 29h8v4h-8zM102 60h8v2h-8zM75 19h5v2h-5zM57 59h7v4h-7zM11 60h7v4h-7zM17 1h13v3h-13zM27 13h7v4h-7zM30 33h14v3h-14zM66 42h12v3h-12zM58 3h4v2h-4zM37 27h7v4h-7zM88 58h14v4h-14zM115 23h13v2h-13zM84 33h7v3h-7zM7 28h6v2h-6zM105 39h11v3h-11zM66 39h10v3h-10zM80 11h4v4h-4zM41 65h8v2h-8zM22 31h7v2h-7zM25 41h11v2h-11zM91 46h5v4h-5zM60 39h14v4h-14zM84 8h5v2h-5zM55 61h13v3h-13zM102 28h5v3h-5zM109 61h11v3h-11zM47 57h10v4h-10zM6 13h9v4h-9zM81 35h11v2h-11zM109 16h6v2h-6zM87 4h5v3h-5zM8 43h8v4h-8zM10 18h10v4h-10zM12 6h10v4h-10zM34 13h4v3h-4zM20 52h5v3h-5zM22 49h6v2h-6zM43 46h10v4h-10zM58 14h5v2h-5zM120 49h5v3h-5zM23 36h11v2h-11zM91 25h11v3h-11zM24 62h6v4h-6zM43 31h5v4h-5zM120 19h4v3h-4zM40 22h13v3h-13zM24 53h9v4h-9zM59 44h4v2h-4zM10 4h4v3h-4zM108 40h9v2h-9zM38 47h8v3h-8zM50 48h13v3h-13zM120 29h8v2h-8zM105 31h4v4h-4zM113 21h14v2h-14zM32 64h6v3h-6zM48 55h14v3h-14zM30 43h8v2h-8zM44 22h14v2h-14zM109 6h9v2h-9zM43 60h12v3h-12zM111 27h11v4h-11zM31 8h9v3h-9zM41 3h5v2h-5zM94 9h4v2h-4zM63 6h13v2h-13zM81 51h7v3h-7zM122 48h8v3h-8zM80 60h8v4h-8zM93 39h9v3h-9zM117 13h9v4h-9zM106 8h13v4h-13zM53 1h11v3h-11zM26 26h14v2h-14zM46 15h9v4h-9zM4 59h14v4h-14zM55 3h13v4h-13zM11 23h6v3h-6zM105 45h12v3h-12zM101 7h5v2h-5zM113 55h7v3h-7zM81 9h6v3h-6zM41 38h10v2h-10zM93 23h9v4h-9zM96 1h11v4h-11zM77 48h14v2h-14zM23 2h12v2h-12z"/></pattern>
<pattern id="p12" width="131" height="67" patternUnits="userSpaceOnUse" ><path fill="#ffb6c1" d="M111 46h20v3h-20zM26 64h6v3h-6zM65 59h6v4h-6zM71 27h20v4h-20zM80 56h8v4h-8zM54 17h18v3h-18zM77 17h15v5h-15zM27 32h9v6h-9zM6 5h16v6h-16zM102 43h18v3h-18zM95 30h20v4h-20zM29 33h14v5h-14zM29 22h19v4h-19zM74 14h20v4h-20zM91 38h17v6h-17zM34 54h17v4h-17zM62 0h20v3h-20zM111 8h13v3h-13zM18 20h20v6h-20zM81 27h13v4h-13zM52 49h14v5h-14zM25 29h17v4h-17zM45 39h8v6h-8zM39 10h12v5h-12zM57 10h16v4h-16zM75 40h8v4h-8zM23 26h7v5h-7zM98 37h13v6h-13zM35 30h13v6h-13zM60 18h14v4h-14zM29 9h14v4h-14zM8 25h11v6h-11zM93 27h7v5h-7zM90 44h11v5h-11zM82 9h19v6h-19zM5 61h13v3h-13zM55 39h11v6h-11zM70 0h10v4h-10zM80 46h16v4h-16zM101 20h16v6h-16zM43 20h15v4h-15zM83 11h14v6h-14zM17 3h10v3h-10zM103 30h15v5h-15zM35 23h13v6h-13zM44 41h14v3h-14zM14 21h16v6h-16zM78 38h10v6h-10zM2 23h15v5h-15zM8 23h18v6h-18zM35 42h18v3h-18zM20 60h10v6h-10zM2 4h17v6h-17zM7 17h9v4h-9zM29 14h8v5h-8zM33 7h6v6h-6zM18 11h17v3h-17zM55 24h18v4h-18zM109 46h6v6h-6zM11 40h12v6h-12zM76 16h19v4h-19zM10 7h10v3h-10zM4 2h8v3h-8zM14 59h11v4h-11zM23 25h8v3h-8zM86 60h15v5h-15zM15 62h9v5h-9zM41 25h19v6h-19zM57 14h12v5h-12zM86 22h13v3h-13zM114 19h8v4h-8zM80 47h18v5h-18zM57 4h16v3h-16zM70 50h18v6h-18zM57 56h20v3h-20zM76 43h20v3h-20zM65 60h16v6h-16zM117 18h8v3h-8zM88 49h13v4h-13zM64 0h8v3h-8zM53 45h19v5h-19zM72 48h16v4h-16zM42 61h17v6h-17zM40 48h13v4h-13zM115 13h9v5h-9zM74 41h18v3h-18zM102 39h11v5h-11zM73 62h11v4h-11zM62 5h10v3h-10zM97 5h8v6h-8zM116 18h15v6h-15zM90 59h15v6h-15zM75 17h6v3h-6zM35 56h7v6h-7zM56 56h7v6h-7zM10 46h17v5h-17zM12 2h13v5h-13zM27 4h13v5h-13zM35 50h16v5h-16zM117 54h11v4h-11zM58 41h18v5h-18zM51 43h19v5h-19zM15 2h17v6h-17zM103 37h17v4h-17zM45 48h6v4h-6zM33 4h19v4h-19zM3 5h13v6h-13zM27 59h7v3h-7zM112 45h15v6h-15zM43 53h7v5h-7zM17 15h20v4h-20zM107 33h16v4h-16zM20 28h11v4h-11zM32 33h13v4h-13zM28 20h20v3h-20zM98 4h20v5h-20zM68 39h16v6h-16zM27 6h19v6h-19zM103 20h12v6h-12zM95 49h16v3h-16zM61 52h9v6h-9zM33 20h14v4h-14zM70 40h14v3h-14zM117 17h12v4h-12zM60 31h20v6h-20zM72 23h20v5h-20zM97 37h7v6h-7zM43 12h11v4h-11zM14 8h11v6h-11zM42 24h13v5h-13zM40 3h15v4h-15zM58 15h11v4h-11zM80 23h10v6h-10zM61 60h15v5h-15zM69 22h20v4h-20zM77 24h11v4h-11zM90 15h10v5h-10zM53 1h17v3h-17zM26 64h9v3h-9zM96 30h16v3h-16zM87 36h16v3h-16zM24 0h20v3h-20zM54 11h10v3h-10zM114 36h10v5h-10zM65 53h17v3h-17zM1 25h11v4h-11zM13 26h8v4h-8zM34 41h20v3h-20zM51 44h16v6h-16zM76 54h6v3h-6zM65 9h7v5h-7zM111 42h12v5h-12zM6 54h6v3h-6zM20 23h15v6h-15zM70 8h17v5h-17zM32 34h11v5h-11zM20 19h8v4h-8zM75 15h8v3h-8zM64 36h8v5h-8zM71 63h15v3h-15zM69 48h12v6h-12zM30 54h6v3h-6zM118 0h8v4h-8zM30 49h9v5h-9zM75 24h7v6h-7zM60 48h12v5h-12zM124 6h6v4h-6zM118 4h13v4h-13zM25 8h15v4h-15zM99 42h10v3h-10zM43 10h18v3h-18zM9 32h12v5h-12zM31 43h18v6h-18zM39 55h8v4h-8zM90 54h11v3h-11zM75 5h20v4h-20zM108 20h13v3h-13zM36 64h19v3h-19z"/></pattern>
<pattern id="p13" width="97" height="61" patternUnits="userSpaceOnUse" ><path fill="#ffb6c1" d="M6 6h1v18h-1zM24 25h3v30h-3zM85 13h1v15h-1zM84 29h2v16h-2zM59 0h1v15h-1zM84 25h3v15h-3zM52 5h1v14h-1zM36 23h3v29h-3zM34 42h2v15h-2zM28 2h3v18h-3zM88 27h2v21h-2zM10 4h1v12h-1zM24 16h1v25h-1zM48 32h3v11h-3zM32 12h3v23h-3zM63 28h1v29h-1zM75 30h2v10h-2zM8 30h1v12h-1zM84 43h2v12h-2zM23 2h1v30h-1zM14 51h3v10h-3zM6 14h2v15h-2zM44 10h3v16h-3zM52 17h3v19h-3zM56 11h1v22h-1zM11 34h1v12h-1zM30 40h3v21h-3zM33 7h1v29h-1zM11 14h1v20h-1zM5 22h1v12h-1zM75 20h1v17h-1zM75 28h3v25h-3zM68 12h3v26h-3zM26 30h2v24h-2zM16 23h3v18h-3zM71 37h2v24h-2zM35 32h1v27h-1zM2 26h1v24h-1zM76 11h2v29h-2zM37 17h1v25h-1zM90 28h1v28h-1zM60 15h2v24h-2zM69 24h3v24h-3zM37 25h3v17h-3zM32 30h3v9h-3zM27 28h2v29h-2z"/></pattern>
<pattern id="p14" width="89" height="71" patternUnits="userSpaceOnUse" patternTransform="rotate(-14)"><path fill="#00ffff" d="M39 29h2v32h-2zM46 46h2v12h-2zM29 50h3v16h-3zM86 16h2v30h-2zM2 17h3v21h-3zM43 23h3v11h-3zM55 38h2v11h-2zM85 19h3v38h-3zM43 30h1v20h-1zM23 31h1v33h-1zM25 17h1v21h-1zM16 57h2v11h-2zM53 28h2v37h-2zM19 20h2v23h-2zM23 10h1v30h-1zM7 43h2v18h-2zM4 11h1v20h-1zM54 12h1v23h-1zM47 32h1v34h-1zM34 28h1v13h-1zM76 16h3v22h-3zM49 11h1v22h-1zM1 23h2v35h-2zM41 21h1v34h-1zM4 39h1v31h-1zM26 1h3v16h-3zM73 39h3v31h-3zM12 12h1v19h-1zM30 14h3v37h-3zM73 20h2v28h-2zM73 20h1v11h-1zM77 5h3v30h-3zM15 15h3v24h-3zM39 26h1v24h-1zM29 7h2v10h-2zM30 41h2v22h-2zM42 37h2v17h-2zM81 2h1v22h-1zM70 19h3v35h-3zM61 29h2v25h-2zM84 24h1v11h-1zM76 39h2v17h-2zM76 30h1v34h-1zM49 10h3v40h-3zM56 5h1v18h-1zM27 44h2v24h-2zM11 57h1v12h-1zM47 0h1v15h-1zM64 29h2v23h-2zM44 23h2v39h-2zM12 32h3v15h-3zM14 23h3v25h-3zM69 13h2v37h-2zM49 22h1v38h-1zM78 35h2v29h-2zM36 48h3v18h-3zM47 7h1v29h-1zM68 20h2v31h-2zM86 7h1v20h-1zM53 1h2v15h-2zM51 0h2v17h-2zM25 34h1v31h-1zM51 16h2v21h-2zM58 10h1v15h-1zM7 1h2v36h-2zM41 43h2v17h-2zM5 31h2v31h-2zM25 34h3v25h-3z"/></pattern>
<pattern id="p15" width="89" height="71" patternUnits="userSpaceOnUse" ><path fill="#00ffff" d="M82 11h2v12h-2zM33 51h4v15h-4zM17 44h4v26h-4zM21 32h4v34h-4zM70 34h3v19h-3zM61 39h2v32h-2zM35 19h2v14h-2zM25 34h3v31h-3zM73 14h4v35h-4zM40 36h4v24h-4zM46 31h2v34h-2zM21 3h3v27h-3zM13 5h4v39h-4zM4 37h4v29h-4zM18 17h4v26h-4zM66 1h2v15h-2zM29 28h2v29h-2zM58 34h2v36h-2zM23 12h2v37h-2zM81 21h3v38h-3zM16 21h4v10h-4zM9 1h3v12h-3zM15 3h4v33h-4zM37 17h2v32h-2zM11 13h3v39h-3zM35 35h3v29h-3zM7 18h2v35h-2zM11 42h2v19h-2zM78 38h4v25h-4zM69 29h2v22h-2zM58 12h3v35h-3zM34 47h2v18h-2zM17 44h4v17h-4zM5 14h3v22h-3zM56 50h2v16h-2zM65 22h3v24h-3zM3 39h4v25h-4zM45 25h4v35h-4zM44 31h2v15h-2zM84 25h4v39h-4zM19 27h2v26h-2zM64 13h2v25h-2zM31 22h2v30h-2zM12 16h4v35h-4zM81 7h3v21h-3zM48 37h3v19h-3zM27 20h4v36h-4zM0 19h3v35h-3zM17 35h3v35h-3zM72 40h4v29h-4zM21 18h2v32h-2zM12 27h4v37h-4zM86 45h3v23h-3zM12 9h3v16h-3zM65 9h3v15h-3zM82 27h3v17h-3zM19 6h3v18h-3zM73 12h2v33h-2zM75 34h2v25h-2zM82 32h2v24h-2zM12 1h3v36h-3zM4 41h2v24h-2zM68 27h4v13h-4zM39 14h2v37h-2zM82 22h4v15h-4z"/></pattern>
<pattern id="p16" width="89" height="71" patternUnits="userSpaceOnUse" patternTransform="rotate(-14)"><path fill="#00ffff" d="M61 51h4v17h-4zM20 19h2v34h-2zM70 46h3v22h-3zM73 55h2v15h-2zM31 13h2v20h-2zM32 5h2v22h-2zM23 16h4v29h-4zM59 14h2v23h-2zM52 7h4v21h-4zM14 21h3v14h-3zM62 1h2v28h-2zM44 2h3v20h-3zM49 26h4v38h-4zM39 26h5v21h-5zM65 28h2v33h-2zM67 30h5v32h-5zM52 52h4v19h-4zM84 3h5v20h-5zM73 15h3v28h-3zM87 23h2v16h-2zM1 16h5v14h-5zM20 12h5v34h-5zM16 19h5v40h-5zM81 13h5v36h-5zM50 0h3v34h-3zM48 28h4v14h-4zM76 14h4v30h-4zM16 3h4v16h-4zM5 18h2v23h-2zM69 10h4v39h-4zM82 4h2v16h-2zM47 45h4v14h-4zM50 32h3v33h-3zM15 33h5v17h-5zM62 28h5v23h-5zM55 14h5v17h-5zM41 30h5v20h-5zM66 35h5v26h-5zM14 2h4v40h-4zM25 9h5v22h-5zM78 17h5v26h-5zM77 33h4v18h-4zM19 17h3v27h-3zM71 1h3v17h-3zM4 39h5v16h-5zM38 28h5v35h-5zM13 25h2v17h-2zM2 24h4v30h-4zM60 5h4v18h-4zM19 32h2v14h-2zM10 5h3v34h-3zM66 4h3v33h-3zM53 28h3v23h-3zM30 20h4v32h-4zM12 34h2v32h-2zM76 3h5v23h-5zM54 4h2v17h-2zM35 31h3v32h-3zM73 27h4v19h-4zM58 37h2v23h-2zM70 17h4v23h-4zM66 31h2v17h-2zM47 7h4v21h-4zM64 18h4v30h-4zM31 26h4v25h-4zM76 15h4v33h-4zM32 39h5v28h-5zM70 41h3v18h-3zM71 0h3v39h-3zM22 23h2v22h-2zM78 12h4v36h-4zM22 41h5v28h-5zM84 6h2v23h-2zM82 41h3v29h-3zM24 25h5v15h-5zM54 12h5v35h-5zM71 18h4v35h-4zM72 25h5v35h-5zM49 9h5v20h-5zM59 2h4v31h-4zM87 47h2v21h-2zM71 11h2v36h-2zM34 29h4v39h-4z"/></pattern>
<pattern id="p17" width="83" height="59" patternUnits="userSpaceOnUse" ><path fill="#fff" d="M39 38h2v18h-2zM69 42h2v13h-2zM11 9h1v13h-1zM43 6h1v23h-1zM70 14h1v12h-1zM38 5h2v17h-2zM50 0h2v14h-2zM48 29h2v15h-2zM80 24h1v22h-1zM29 25h1v11h-1zM3 37h2v15h-2zM53 37h1v22h-1zM57 18h1v15h-1zM47 36h1v9h-1zM75 1h1v11h-1zM18 25h2v25h-2zM59 17h1v25h-1zM20 12h2v20h-2zM73 25h1v30h-1zM55 12h2v27h-2zM41 3h2v26h-2zM13 2h2v24h-2zM33 42h2v16h-2zM67 28h2v21h-2zM59 36h2v22h-2zM79 11h2v11h-2zM16 13h1v15h-1zM63 42h1v14h-1zM42 28h2v14h-2zM80 11h2v9h-2zM57 4h1v13h-1zM3 1h1v22h-1zM64 5h2v21h-2zM17 3h2v15h-2zM43 19h2v15h-2z"/></pattern>
<pattern id="p18" width="79" height="67" patternUnits="userSpaceOnUse" ><path fill="#ffb6c1" d="M50 3h2v21h-2zM4 38h1v18h-1zM28 21h2v14h-2zM12 53h1v8h-1zM62 44h1v21h-1zM12 37h2v19h-2zM40 0h2v26h-2zM33 26h2v28h-2zM69 33h1v23h-1zM62 6h2v11h-2zM13 31h2v29h-2zM76 1h2v24h-2zM60 19h1v27h-1zM53 38h1v27h-1zM0 30h2v29h-2zM73 29h1v19h-1zM37 40h2v11h-2zM39 34h1v18h-1zM51 36h1v26h-1zM58 35h1v21h-1zM61 19h1v27h-1zM37 0h1v30h-1z"/></pattern>
<pattern id="p19" width="127" height="16" patternUnits="userSpaceOnUse" ><path fill="#d3d3d3" d="M90 14h4v2h-4zM97 7h8v1h-8zM102 8h3v1h-3zM107 3h4v2h-4zM78 9h8v2h-8zM31 14h4v1h-4zM44 2h7v2h-7zM22 13h9v2h-9zM119 5h7v2h-7zM101 7h3v2h-3zM20 0h3v1h-3zM41 10h6v1h-6zM48 4h3v1h-3zM74 3h5v1h-5zM64 12h9v2h-9zM105 13h4v2h-4zM27 4h9v1h-9zM29 14h9v2h-9zM111 8h3v1h-3zM98 14h3v1h-3zM106 2h8v2h-8zM90 10h4v2h-4zM108 14h6v1h-6zM77 8h5v2h-5zM78 11h4v1h-4zM88 0h4v1h-4zM25 9h8v1h-8zM39 10h9v1h-9zM117 12h3v2h-3zM103 13h8v2h-8zM56 3h7v1h-7zM51 14h3v2h-3zM26 2h4v1h-4zM11 12h9v1h-9zM31 14h3v1h-3zM111 13h8v1h-8zM14 0h8v2h-8zM25 3h6v2h-6zM91 5h7v2h-7zM68 5h9v2h-9zM112 12h8v1h-8zM53 4h3v2h-3zM27 13h5v1h-5zM36 3h5v2h-5zM38 6h9v2h-9zM120 3h7v1h-7zM72 14h6v1h-6zM32 7h9v2h-9zM13 3h5v2h-5zM65 13h7v1h-7zM61 12h4v1h-4zM48 10h9v2h-9zM118 12h3v1h-3zM39 13h8v1h-8zM36 10h7v1h-7zM36 14h6v2h-6zM78 9h9v2h-9zM117 8h4v1h-4zM52 0h8v1h-8zM47 14h5v2h-5zM54 0h9v1h-9zM93 3h6v2h-6zM11 7h8v1h-8zM25 6h5v2h-5zM81 6h5v2h-5zM13 3h5v2h-5zM66 1h3v2h-3zM97 14h7v2h-7zM73 6h6v2h-6zM30 13h8v1h-8zM49 5h5v2h-5zM4 7h6v2h-6zM84 1h7v1h-7zM7 11h9v1h-9zM113 6h5v1h-5zM99 4h4v2h-4zM68 1h6v2h-6zM22 6h3v1h-3zM48 4h8v1h-8zM46 1h7v2h-7zM83 6h4v2h-4zM5 2h4v1h-4zM4 13h6v2h-6zM80 11h8v2h-8zM57 3h5v2h-5zM59 5h5v1h-5zM121 11h4v2h-4zM76 12h5v1h-5zM24 9h9v1h-9zM68 3h5v2h-5zM71 10h8v1h-8zM79 10h6v1h-6zM56 13h3v1h-3zM38 7h9v2h-9zM38 6h4v1h-4zM71 12h8v2h-8zM104 11h6v2h-6zM110 0h6v1h-6zM75 12h7v1h-7zM63 3h8v2h-8zM62 1h6v1h-6zM41 15h6v1h-6zM88 8h9v1h-9zM81 14h5v1h-5zM36 15h9v1h-9zM93 6h7v1h-7zM43 0h5v2h-5zM44 14h3v2h-3zM73 4h8v1h-8zM93 4h4v2h-4zM96 9h3v2h-3zM38 8h4v1h-4zM34 10h9v2h-9zM97 11h6v2h-6zM32 10h8v2h-8zM28 10h8v1h-8zM99 3h4v2h-4zM33 14h9v2h-9zM93 9h5v1h-5zM65 8h5v1h-5zM46 3h4v1h-4zM43 1h8v2h-8zM54 8h7v1h-7zM63 4h3v2h-3zM43 13h5v1h-5zM71 2h7v2h-7zM42 14h6v2h-6zM113 8h4v1h-4zM30 7h7v1h-7zM25 7h4v1h-4zM44 13h4v2h-4zM85 0h6v2h-6zM54 15h4v1h-4zM91 10h4v1h-4zM35 11h3v1h-3zM19 8h3v2h-3zM101 3h7v1h-7zM110 12h7v1h-7zM27 9h4v2h-4zM60 1h9v2h-9zM100 6h6v2h-6zM2 7h4v2h-4zM25 3h6v1h-6zM99 11h8v2h-8zM43 4h4v1h-4zM100 10h3v1h-3zM52 3h5v1h-5zM38 12h9v1h-9zM60 4h9v2h-9zM38 13h9v2h-9zM24 15h7v1h-7zM26 11h4v1h-4zM24 11h8v2h-8zM67 1h3v1h-3zM2 15h7v1h-7zM35 14h6v2h-6zM118 9h3v2h-3zM34 4h5v1h-5zM94 6h6v1h-6zM3 8h4v1h-4zM52 5h4v2h-4zM53 11h3v2h-3zM63 1h3v1h-3zM63 15h6v1h-6zM99 12h4v1h-4zM64 13h9v1h-9zM10 3h5v2h-5zM118 10h3v2h-3zM113 5h5v1h-5zM17 0h7v1h-7zM29 5h3v2h-3zM6 13h4v1h-4zM11 15h4v1h-4zM97 13h6v1h-6zM18 14h5v1h-5zM21 0h9v2h-9zM102 10h5v1h-5zM56 3h3v1h-3zM82 8h3v2h-3zM117 1h9v1h-9zM75 0h8v2h-8zM73 0h6v2h-6zM54 10h4v2h-4zM55 7h6v1h-6zM66 6h7v2h-7zM33 5h4v2h-4zM56 0h5v1h-5zM50 15h5v1h-5zM75 3h6v1h-6zM30 0h5v1h-5zM120 9h4v1h-4zM86 5h9v2h-9zM107 7h3v1h-3zM105 11h6v2h-6zM56 6h9v2h-9zM23 11h3v1h-3zM75 13h3v2h-3zM117 2h8v2h-8zM93 3h3v2h-3zM85 9h3v2h-3zM12 0h6v1h-6zM31 8h6v2h-6zM75 7h8v1h-8zM27 9h6v2h-6zM56 5h5v1h-5zM93 1h8v2h-8zM14 8h5v1h-5zM81 10h6v1h-6zM57 3h9v1h-9zM21 9h5v1h-5zM115 8h7v1h-7zM57 12h5v2h-5zM37 8h8v1h-8zM27 14h8v2h-8zM75 6h7v1h-7zM112 6h6v1h-6zM22 6h8v2h-8zM51 13h9v2h-9zM19 12h6v2h-6zM54 8h5v1h-5zM87 3h4v2h-4zM105 2h6v2h-6zM89 13h4v2h-4zM17 5h6v1h-6zM87 12h8v2h-8zM0 10h7v2h-7zM23 1h8v2h-8zM27 3h5v1h-5zM70 7h9v2h-9zM37 8h5v1h-5zM86 12h9v2h-9zM89 3h8v1h-8zM2 5h7v1h-7zM110 8h7v2h-7zM24 3h3v2h-3zM58 0h6v2h-6zM32 13h9v2h-9zM50 11h9v1h-9zM90 1h9v2h-9zM103 10h8v1h-8zM34 9h5v2h-5zM99 1h3v1h-3zM44 9h3v2h-3zM43 14h4v2h-4zM80 5h5v1h-5zM22 9h9v2h-9zM70 5h9v1h-9zM47 15h3v1h-3zM114 9h4v2h-4zM5 11h6v1h-6zM2 10h9v1h-9zM3 1h9v1h-9zM16 9h9v1h-9zM64 5h5v1h-5zM83 2h9v2h-9zM40 2h7v2h-7zM21 7h4v2h-4zM16 9h6v1h-6zM70 10h6v1h-6zM51 11h7v1h-7zM67 10h9v1h-9zM110 11h7v2h-7zM72 8h3v1h-3zM19 10h7v1h-7zM2 8h5v2h-5zM23 13h3v1h-3zM40 0h9v2h-9zM88 1h4v2h-4zM43 10h5v2h-5zM58 10h4v2h-4zM43 9h9v1h-9zM95 10h5v1h-5zM91 11h3v2h-3zM87 13h7v2h-7zM57 4h5v2h-5zM102 9h4v1h-4zM88 6h8v1h-8zM5 0h8v2h-8zM70 14h9v2h-9zM52 2h7v1h-7zM13 4h4v1h-4zM82 9h8v2h-8zM30 1h9v1h-9zM92 7h4v1h-4zM48 4h9v1h-9zM123 7h4v2h-4zM0 13h9v2h-9zM87 10h9v1h-9zM118 12h5v2h-5zM55 14h3v2h-3zM16 9h4v2h-4zM83 0h7v2h-7zM70 13h8v2h-8zM1 10h7v1h-7zM47 9h6v2h-6zM5 14h3v2h-3zM9 1h3v2h-3zM41 3h7v2h-7zM82 1h5v2h-5zM74 4h6v2h-6zM62 13h7v2h-7zM105 13h8v1h-8zM15 8h3v2h-3zM69 13h5v1h-5zM30 7h8v1h-8zM43 0h4v1h-4zM36 0h6v2h-6zM38 14h3v2h-3zM76 11h8v2h-8zM60 14h5v1h-5zM51 0h6v2h-6zM121 9h3v2h-3zM81 0h5v1h-5zM111 2h9v2h-9zM47 11h4v2h-4zM42 0h7v1h-7zM117 5h7v2h-7zM121 10h6v1h-6zM104 4h5v2h-5zM101 0h4v1h-4zM59 10h7v1h-7zM0 11h4v1h-4zM68 4h4v2h-4zM68 0h5v2h-5zM89 8h3v2h-3zM9 9h8v2h-8zM112 9h7v2h-7zM44 13h5v1h-5zM32 0h3v2h-3zM74 1h5v1h-5zM12 9h4v2h-4zM68 8h5v1h-5zM18 2h5v1h-5zM57 12h8v2h-8zM118 8h4v1h-4zM104 11h7v2h-7zM52 9h6v2h-6zM10 0h7v1h-7zM18 14h7v1h-7zM52 13h5v1h-5zM54 3h9v2h-9zM105 4h3v1h-3zM56 12h4v2h-4zM91 0h7v1h-7zM76 11h9v1h-9zM7 13h5v1h-5zM30 3h5v1h-5zM119 2h6v1h-6zM13 7h8v1h-8zM56 3h4v1h-4zM40 7h5v2h-5zM60 11h4v2h-4zM48 12h4v2h-4zM68 3h6v1h-6zM57 15h8v1h-8zM95 7h3v1h-3zM109 2h8v2h-8zM60 7h3v2h-3zM78 13h6v1h-6zM119 14h6v1h-6zM114 5h5v1h-5zM28 9h5v2h-5zM31 14h8v1h-8zM64 7h8v2h-8zM26 7h6v1h-6zM8 1h5v2h-5zM60 5h5v1h-5zM80 14h8v2h-8zM0 6h8v2h-8zM66 13h3v1h-3zM67 4h4v1h-4zM52 5h4v2h-4zM83 9h4v2h-4zM25 12h4v2h-4zM122 10h3v1h-3zM4 9h8v1h-8zM3 12h3v1h-3zM95 7h7v2h-7zM117 14h5v1h-5zM20 14h4v1h-4zM98 14h5v2h-5zM2 4h9v2h-9zM2 1h5v2h-5zM115 14h9v1h-9zM67 13h9v1h-9zM100 15h9v1h-9zM101 3h9v1h-9zM49 2h5v1h-5zM50 7h9v1h-9zM77 0h3v2h-3zM88 12h8v2h-8zM67 0h9v1h-9zM96 7h3v1h-3zM41 10h4v1h-4zM44 13h6v1h-6zM64 15h8v1h-8zM66 0h4v2h-4zM43 13h9v1h-9zM89 14h4v2h-4zM5 13h4v2h-4zM73 3h5v2h-5zM9 1h6v2h-6zM39 3h3v1h-3zM110 2h6v1h-6zM26 1h8v1h-8zM105 7h8v1h-8zM50 3h7v2h-7zM19 10h5v2h-5zM80 7h9v2h-9zM33 8h4v2h-4zM109 9h6v1h-6zM61 9h4v1h-4zM83 0h7v2h-7zM9 3h8v1h-8zM108 0h4v1h-4zM20 0h4v2h-4zM46 6h7v2h-7zM61 0h9v1h-9zM87 3h9v2h-9zM17 6h9v2h-9zM41 5h5v2h-5zM64 9h4v1h-4zM84 0h8v2h-8zM10 15h8v1h-8zM106 15h6v1h-6zM120 14h4v1h-4zM0 10h7v1h-7zM80 12h4v1h-4zM84 0h7v1h-7zM9 14h4v2h-4zM21 14h9v1h-9zM25 12h5v1h-5zM33 12h5v1h-5zM86 13h7v1h-7zM48 6h4v2h-4zM101 8h3v2h-3zM17 8h4v1h-4zM67 6h4v1h-4zM26 7h6v1h-6zM50 2h4v1h-4zM88 14h6v2h-6zM28 2h5v1h-5z"/></pattern>
<pattern id="p20" width="113" height="27" patternUnits="userSpaceOnUse" ><path fill="#d3d3d3" d="M3 21h7v1h-7zM13 24h3v1h-3zM75 13h5v1h-5zM47 23h7v2h-7zM71 17h6v2h-6zM38 24h4v1h-4zM21 18h4v1h-4zM29 13h6v2h-6zM94 22h6v1h-6zM100 13h3v2h-3zM92 9h6v2h-6zM90 21h6v2h-6zM57 15h6v1h-6zM83 15h5v1h-5zM38 3h4v2h-4zM9 2h6v2h-6zM56 11h4v2h-4zM67 10h6v2h-6zM58 0h6v1h-6zM46 9h7v1h-7zM99 10h4v2h-4zM63 19h5v2h-5zM16 6h3v1h-3zM51 10h5v1h-5zM72 14h6v1h-6zM82 18h7v1h-7zM42 22h7v1h-7zM68 18h3v1h-3zM95 9h7v1h-7zM82 15h5v2h-5zM64 11h5v2h-5zM66 7h4v2h-4zM34 5h4v2h-4zM26 15h6v1h-6zM64 25h3v2h-3zM15 24h5v1h-5zM63 7h3v2h-3zM61 11h6v1h-6zM63 4h5v1h-5zM89 6h3v1h-3zM77 4h7v2h-7zM34 14h4v2h-4zM50 8h3v1h-3zM13 9h4v2h-4zM32 20h7v1h-7zM82 4h4v1h-4zM17 15h7v2h-7zM26 22h3v1h-3zM39 9h7v2h-7zM59 2h3v2h-3zM32 14h4v2h-4zM99 23h4v2h-4zM31 16h3v1h-3zM21 3h4v2h-4zM41 16h5v2h-5zM23 4h6v1h-6zM1 24h5v2h-5zM12 2h7v2h-7zM20 7h3v2h-3zM30 1h3v1h-3zM83 2h5v1h-5zM12 22h6v2h-6zM69 16h3v1h-3zM74 23h3v2h-3zM11 10h6v2h-6zM51 3h3v1h-3zM30 8h5v1h-5zM42 11h7v1h-7zM31 19h3v2h-3zM27 6h6v1h-6zM78 4h4v1h-4zM1 2h7v1h-7zM73 8h4v2h-4zM12 25h4v1h-4zM71 19h5v1h-5zM77 6h3v1h-3zM98 16h7v2h-7zM14 3h7v1h-7zM83 1h4v1h-4zM36 8h3v1h-3zM45 15h6v2h-6zM8 18h3v1h-3zM47 21h6v1h-6zM73 12h6v2h-6zM23 1h7v2h-7zM74 15h7v2h-7zM2 16h3v1h-3zM68 19h5v2h-5zM80 2h6v2h-6zM32 4h5v1h-5zM68 7h7v1h-7zM30 11h6v2h-6zM17 9h5v2h-5zM39 2h5v1h-5zM3 21h7v1h-7zM78 14h5v2h-5zM20 12h5v2h-5zM100 2h5v1h-5zM14 6h6v1h-6zM4 9h7v2h-7zM62 17h7v2h-7zM2 16h6v2h-6zM4 14h5v2h-5zM50 0h3v2h-3zM25 2h5v2h-5zM65 17h7v1h-7zM31 24h6v2h-6zM50 0h4v1h-4zM76 3h5v2h-5zM4 12h7v1h-7zM77 4h6v1h-6zM15 21h3v2h-3zM24 22h3v1h-3zM59 25h3v2h-3zM86 4h6v2h-6zM0 3h4v2h-4zM13 19h3v2h-3zM23 24h7v2h-7zM59 22h5v1h-5zM18 24h3v1h-3zM100 18h3v1h-3zM46 15h7v2h-7zM90 5h3v2h-3zM63 17h7v1h-7zM84 9h5v2h-5zM72 8h4v2h-4zM91 17h6v2h-6zM20 9h4v1h-4zM84 12h6v2h-6zM61 1h3v2h-3zM13 2h5v2h-5zM19 24h3v2h-3zM90 19h5v1h-5zM102 21h6v2h-6zM9 22h4v1h-4zM84 9h6v1h-6zM72 26h5v1h-5zM63 4h7v2h-7zM86 11h6v1h-6zM32 16h6v1h-6zM20 15h3v2h-3zM56 25h4v2h-4zM77 23h3v1h-3zM106 17h5v2h-5zM1 13h4v2h-4zM71 2h5v2h-5zM62 13h7v2h-7zM8 1h7v2h-7zM87 4h5v1h-5zM63 21h7v1h-7zM102 21h5v1h-5zM2 19h3v2h-3zM77 16h5v2h-5zM12 11h4v1h-4zM69 16h5v1h-5zM97 7h3v2h-3zM6 23h5v2h-5zM8 21h7v1h-7zM54 9h4v2h-4zM67 25h7v2h-7zM27 0h5v2h-5zM63 2h7v1h-7zM64 15h4v2h-4zM73 20h3v1h-3zM40 17h4v1h-4zM16 24h7v1h-7zM45 22h5v1h-5zM105 25h4v2h-4zM43 2h7v1h-7zM95 25h5v2h-5zM61 17h4v2h-4zM7 14h3v1h-3zM74 5h5v1h-5zM46 2h5v2h-5zM80 14h7v1h-7zM104 17h7v2h-7zM18 6h5v2h-5zM102 12h4v1h-4zM7 13h6v1h-6zM83 17h4v1h-4zM64 13h4v2h-4zM55 22h3v2h-3zM51 25h6v2h-6zM7 16h7v2h-7zM99 17h4v1h-4zM92 11h5v1h-5zM86 11h3v2h-3zM55 6h4v2h-4zM35 21h5v1h-5zM81 22h6v2h-6zM28 14h5v2h-5zM91 19h7v2h-7zM10 9h6v2h-6zM18 11h3v2h-3zM84 24h4v1h-4zM107 7h5v1h-5zM59 4h4v1h-4zM10 25h7v2h-7zM54 19h3v2h-3zM94 2h7v2h-7zM47 3h5v2h-5zM51 24h3v1h-3zM39 11h3v2h-3zM2 6h7v2h-7zM87 16h4v1h-4zM58 5h4v2h-4zM16 6h6v1h-6zM78 8h5v2h-5zM55 4h7v2h-7zM85 17h6v1h-6zM25 3h6v2h-6zM73 18h5v2h-5zM5 2h5v2h-5zM71 24h4v1h-4zM10 4h5v1h-5zM48 5h6v1h-6zM24 25h7v2h-7zM27 20h3v1h-3zM65 2h4v1h-4zM45 3h7v2h-7zM40 12h7v2h-7zM53 22h7v1h-7zM49 22h7v1h-7zM5 9h7v2h-7zM77 1h4v2h-4zM69 1h7v1h-7zM72 16h4v1h-4zM2 5h3v2h-3zM71 21h4v1h-4zM1 13h6v1h-6zM27 26h6v1h-6zM27 3h6v1h-6zM75 18h6v1h-6zM5 22h6v1h-6zM49 22h6v1h-6zM91 13h6v1h-6zM59 21h7v2h-7zM47 16h3v2h-3z"/></pattern>
<pattern id="p21" width="151" height="40" patternUnits="userSpaceOnUse" ><path fill="#d3d3d3" d="M126 3h4v2h-4zM86 33h3v1h-3zM116 25h3v2h-3zM138 13h5v2h-5zM61 29h3v1h-3zM22 2h3v1h-3zM34 23h4v1h-4zM141 23h6v1h-6zM118 11h3v2h-3zM28 28h6v1h-6zM90 23h3v2h-3zM134 34h3v1h-3zM119 12h4v2h-4zM120 11h6v1h-6zM131 15h4v2h-4zM77 31h6v2h-6zM107 25h6v1h-6zM111 30h4v2h-4zM3 13h5v2h-5zM139 18h5v2h-5zM16 5h4v1h-4zM39 5h4v2h-4zM69 32h4v1h-4zM78 12h5v1h-5zM28 7h6v1h-6zM140 28h3v1h-3zM135 11h5v1h-5zM21 9h6v1h-6zM9 18h3v2h-3zM135 17h6v1h-6zM67 30h3v2h-3zM43 30h3v1h-3zM80 23h4v1h-4zM51 4h3v1h-3zM41 12h3v1h-3zM31 13h5v1h-5zM21 32h5v2h-5zM88 28h6v1h-6zM130 4h3v2h-3zM16 15h4v2h-4zM55 20h4v1h-4zM50 21h3v1h-3zM17 23h3v2h-3zM92 18h5v1h-5zM103 37h5v1h-5zM57 19h5v1h-5zM139 17h3v1h-3zM1 30h3v2h-3zM130 9h6v1h-6zM124 13h5v2h-5zM119 39h4v1h-4zM68 17h5v1h-5zM132 31h3v1h-3zM130 35h6v2h-6zM43 31h6v1h-6zM67 7h4v2h-4zM18 16h6v1h-6zM138 12h4v1h-4zM82 36h6v2h-6zM127 33h4v2h-4zM126 10h4v2h-4zM19 32h5v2h-5zM113 18h4v1h-4zM89 29h6v1h-6zM73 16h3v1h-3zM8 19h6v1h-6zM65 32h6v1h-6zM135 28h6v2h-6zM28 5h5v1h-5zM105 6h3v2h-3zM143 12h3v1h-3zM10 5h5v1h-5zM58 8h4v2h-4zM144 11h5v2h-5zM61 30h4v1h-4zM142 2h3v1h-3zM34 17h3v2h-3zM80 34h4v2h-4zM130 38h3v2h-3zM79 26h5v2h-5zM46 37h5v1h-5zM94 22h3v2h-3zM122 17h3v1h-3zM116 8h6v2h-6zM72 17h6v2h-6zM138 1h4v1h-4zM92 1h4v1h-4zM77 31h5v2h-5zM55 32h3v1h-3zM121 36h3v2h-3zM130 21h4v1h-4zM31 6h3v1h-3zM60 19h3v2h-3zM20 30h3v2h-3zM93 14h3v1h-3zM24 27h4v1h-4zM124 14h4v2h-4zM54 24h6v2h-6zM86 39h4v1h-4zM141 34h4v2h-4zM55 33h5v2h-5zM1 25h4v2h-4zM135 32h4v1h-4zM130 29h3v2h-3zM11 27h3v1h-3zM105 20h3v2h-3zM55 31h5v2h-5zM62 19h5v2h-5zM40 18h5v2h-5zM81 9h6v1h-6zM112 22h6v2h-6zM106 25h5v2h-5z"/></pattern>
<pattern id="p22" width="167" height="48" patternUnits="userSpaceOnUse" ><path fill="#d3d3d3" d="M94 8h5v1h-5zM51 20h3v1h-3zM121 31h5v1h-5zM57 15h4v2h-4zM83 17h5v1h-5zM75 16h3v1h-3zM37 0h4v2h-4zM13 5h3v1h-3zM162 9h5v2h-5zM40 11h3v1h-3zM18 2h4v1h-4zM48 11h3v1h-3zM73 9h3v1h-3zM35 5h3v1h-3zM25 0h6v2h-6zM10 2h5v2h-5zM129 47h3v1h-3zM71 44h4v2h-4zM39 8h4v1h-4zM65 10h3v2h-3zM64 2h3v1h-3zM115 0h6v2h-6zM132 8h4v2h-4zM125 2h6v2h-6zM105 13h4v2h-4zM7 14h5v2h-5z"/></pattern>
</defs>
<g clip-path="url(#axclip)">
<polygon points="266.0,862.0 680.0,862.0 718.8,851.4 777.0,851.4 806.0,843.7 831.4,836.9 835.3,828.1 874.0,828.1 883.8,834.0 913.0,832.0 947.9,826.2 961.5,826.2 979.0,833.0 1006.0,831.0 1030.0,840.0 1030.0,957.0 266.0,957.0" fill="#d3d3d3" />
<polygon points="446.0,860.0 455.6,836.4 477.0,841.0 517.8,855.0 539.5,863.0 446.0,863.0" fill="#d3d3d3" />
<polygon points="446.0,860.0 455.6,836.4 477.0,841.0 517.8,855.0 539.5,863.0 446.0,863.0" fill="url(#p11)" />
<polygon points="893.0,845.0 1030.0,845.0 1030.0,903.0 893.0,903.0" fill="url(#p6)" />
<polygon points="1030.0,905.0 1560.0,907.0 1560.0,957.0 1030.0,957.0" fill="#d3d3d3" />
<polygon points="1030.0,905.0 1560.0,907.0 1560.0,957.0 1030.0,957.0" fill="url(#p8)" />
<polygon points="1262.0,907.0 1368.0,908.0 1368.0,957.0 1262.0,957.0" fill="url(#p9)" />
<polygon points="1030.0,862.0 1100.0,864.0 1100.0,905.0 1030.0,905.0" fill="url(#p4)" />
<polygon points="1100.0,864.0 1300.0,866.0 1560.0,868.0 1560.0,907.0 1100.0,905.0" fill="url(#p2)" />
<polygon points="1030.0,838.0 1100.0,838.0 1300.0,850.0 1560.0,855.0 1560.0,868.0 1030.0,862.0" fill="url(#p1)" />
<polygon points="1560.0,906.0 1700.0,900.0 1960.0,893.0 2130.0,896.0 2130.0,957.0 1560.0,957.0" fill="#d3d3d3" />
<polygon points="1560.0,868.0 1700.0,868.0 1960.0,845.0 2130.0,850.0 2130.0,896.0 1960.0,893.0 1700.0,900.0 1560.0,906.0" fill="url(#p3)" />
<polygon points="1720.0,872.0 1945.0,870.0 1945.0,894.0 1720.0,900.0" fill="url(#p4)" />
<polygon points="1945.0,888.0 2130.0,885.0 2130.0,897.0 1945.0,894.0" fill="#d3d3d3" />
<polygon points="1560.0,906.0 2130.0,896.0 2130.0,957.0 1560.0,957.0" fill="url(#p8)" />
<polygon points="2130.0,885.0 2200.0,888.0 2240.0,878.0 2300.0,872.0 2420.0,868.0 2560.0,860.0 2850.0,866.0 2850.0,957.0 2130.0,957.0" fill="#d3d3d3" />
<polygon points="2850.0,866.0 3637.0,864.0 3637.0,957.0 2850.0,957.0" fill="#d3d3d3" />
<polygon points="2850.0,849.0 3637.0,847.0 3637.0,866.0 2850.0,866.0" fill="url(#p19)" />
<polygon points="2850.0,840.0 3637.0,838.0 3637.0,849.5 2850.0,849.5" fill="url(#p20)" />
<polygon points="2850.0,829.0 3637.0,827.0 3637.0,840.5 2850.0,840.5" fill="url(#p21)" />
<polygon points="2850.0,812.0 3637.0,810.0 3637.0,829.0 2850.0,829.0" fill="url(#p22)" />
<polygon points="2560.0,848.0 2850.0,845.0 2850.0,866.0 2560.0,862.0" fill="url(#p3)" />
<polygon points="2940.0,776.0 2962.0,774.0 2962.0,786.0 2940.0,786.0" fill="url(#p4)" />
<polygon points="266.0,863.0 560.0,864.0 700.0,866.5 718.8,855.0 777.0,855.0 806.0,847.0 831.4,840.0 837.0,832.0 874.0,832.0 883.8,838.0 913.0,836.0 947.9,830.0 961.5,830.0 979.0,837.0 1006.0,836.0 1030.0,846.0 1030.0,855.0 1006.0,845.0 979.0,846.0 961.5,839.0 947.9,839.0 913.0,845.0 883.8,847.0 874.0,841.0 837.0,841.0 831.4,849.0 806.0,856.0 777.0,864.0 718.8,864.0 700.0,875.5 560.0,873.0 266.0,872.0" fill="#ffb6c1" />
<polygon points="266.0,872.0 700.0,874.0 700.0,893.0 266.0,893.0" fill="url(#p10)" />
<polygon points="960.0,820.0 1110.0,824.0 1110.0,870.0 960.0,868.0" fill="url(#p10)" />
<polygon points="1030.0,862.0 1320.0,866.0 1320.0,880.0 1030.0,876.0" fill="url(#p11)" />
<polygon points="1380.0,836.0 1760.0,834.0 1760.0,880.0 1380.0,878.0" fill="url(#p10)" />
<polygon points="2040.0,722.0 2130.0,735.0 2130.0,765.0 2060.0,750.0" fill="url(#p13)" />
<polygon points="2120.0,880.0 2215.0,880.0 2215.0,912.0 2120.0,912.0" fill="url(#p10)" />
<polygon points="2325.0,783.0 2362.0,783.0 2362.0,797.0 2325.0,797.0" fill="#ffb6c1" />
<polygon points="2449.9,835.5 2468.6,835.5 2468.6,861.6 2449.9,861.6" fill="url(#p12)" />
<polygon points="2620.0,794.0 2675.0,796.0 2675.0,804.0 2620.0,802.0" fill="url(#p11)" />
<polygon points="2563.6,868.1 2705.2,867.2 2705.2,884.0 2563.6,884.0" fill="url(#p12)" />
<polygon points="2623.2,870.5 2656.8,869.6 2703.3,870.2 2703.3,880.6 2656.8,881.7 2623.2,880.2" fill="#ffb6c1" />
<polygon points="2694.0,854.2 2746.2,854.2 2746.2,897.0 2694.0,897.0" fill="url(#p12)" />
<polygon points="2370.0,858.0 2500.0,862.0 2500.0,880.0 2370.0,876.0" fill="url(#p10)" />
<polygon points="266.0,767.5 297.0,763.4 337.6,782.0 368.7,799.0 409.0,802.0 446.0,799.0 477.0,791.0 511.5,781.0 524.0,793.0 555.0,811.5 586.0,824.0 594.0,833.0 594.0,858.0 539.5,862.8 517.8,855.0 477.0,841.0 455.6,836.4 446.0,859.7 353.0,860.6 306.6,856.6 266.0,847.3" fill="#00ffff" />
<polygon points="600.0,816.0 615.0,816.0 615.0,858.0 600.0,858.0" fill="url(#p15)" />
<polygon points="1379.0,690.4 1402.5,684.2 1439.8,682.7 1474.0,671.8 1502.0,667.0 1517.4,665.6 1560.9,653.2 1582.6,662.5 1590.0,684.0 1582.6,709.0 1570.0,727.7 1548.4,740.0 1543.0,745.0 1539.0,758.0 1535.0,745.0 1517.4,734.0 1481.7,727.7 1446.0,721.5 1408.7,715.3 1387.0,721.5 1379.0,696.6" fill="#00ffff" />
<polygon points="1379.0,688.0 1440.0,682.0 1465.0,700.0 1455.0,722.0 1387.0,722.0" fill="url(#p17)" />
<polygon points="1378.0,845.0 1420.0,838.0 1470.0,840.0 1484.0,845.0 1486.0,868.0 1440.0,870.0 1400.0,868.0 1378.0,866.0" fill="#00ffff" />
<polygon points="1569.0,831.0 1620.0,831.0 1620.0,846.0 1569.0,846.0" fill="url(#p15)" />
<polygon points="1636.0,832.0 1660.0,828.0 1700.0,822.0 1723.0,826.0 1725.0,868.0 1690.0,870.0 1665.0,868.0 1640.0,850.0" fill="#00ffff" />
<polygon points="1838.6,692.0 1846.0,690.0 1870.0,695.0 1882.0,697.0 1890.0,715.0 1900.0,720.0 1902.0,735.0 1895.0,725.0 1890.0,745.0 1880.0,750.0 1870.0,735.0 1860.0,730.0 1846.0,715.0 1840.0,705.0" fill="#00ffff" />
<polygon points="1827.7,856.0 1850.0,852.0 1877.0,856.0 1877.0,870.5 1827.7,870.5" fill="#00ffff" />
<polygon points="1934.8,674.9 1939.5,664.0 1950.4,659.4 1961.2,664.0 1970.6,664.0 1983.0,667.1 1989.2,678.0 2001.6,706.0 2020.2,706.0 2037.3,715.3 2057.5,724.6 2073.0,733.9 2109.4,743.2 2145.1,746.3 2181.1,743.2 2217.5,740.1 2253.2,743.2 2288.9,743.2 2324.6,746.3 2360.0,758.8 2360.0,772.0 2385.0,778.0 2400.0,790.0 2412.0,800.0 2408.0,830.0 2412.0,850.0 2415.0,868.0 2380.0,868.0 2360.0,865.9 2324.6,862.8 2306.0,873.7 2287.3,864.3 2268.7,876.8 2250.1,862.8 2234.5,879.9 2219.0,870.6 2200.4,886.1 2188.0,879.9 2169.3,865.9 2156.9,848.8 2144.5,830.2 2135.2,817.8 2125.8,796.0 2109.4,786.7 2073.0,780.5 2037.3,777.4 2020.2,774.3 1989.2,758.8 1970.6,754.1 1958.1,740.1 1948.8,721.5 1936.4,699.8" fill="#00ffff" />
<polygon points="1934.8,674.9 1939.5,664.0 1950.4,659.4 1983.0,667.1 2001.6,706.0 2073.0,733.9 2125.8,752.5 2125.8,777.4 2073.0,777.4 2020.2,774.3 1970.6,754.1 1936.4,699.8" fill="url(#p17)" />
<polygon points="1934.8,674.9 1939.5,664.0 1950.4,659.4 1983.0,667.1 2001.6,706.0 2073.0,733.9 2125.8,752.5 2125.8,777.4 2073.0,777.4 2020.2,774.3 1970.6,754.1 1936.4,699.8" fill="url(#p18)" />
<polygon points="2057.5,727.7 2119.6,746.3 2119.6,761.9 2057.5,758.8" fill="url(#p13)" />
<polygon points="2481.6,781.5 2571.0,781.5 2571.0,813.2 2481.6,813.2" fill="url(#p12)" />
<polygon points="2489.1,784.3 2571.0,784.3 2569.2,807.6 2526.3,809.4 2489.1,802.0" fill="#ffb6c1" />
<polygon points="2420.1,775.9 2459.2,775.9 2459.2,809.4 2420.1,809.4" fill="url(#p16)" />
<polygon points="2420.1,809.4 2459.2,809.4 2459.2,828.1 2420.1,828.1" fill="url(#p14)" />
<polygon points="2483.5,781.5 2574.8,790.8 2574.8,824.3 2483.5,824.3" fill="url(#p16)" />
<polygon points="2485.3,824.3 2574.8,824.3 2574.8,863.5 2518.9,863.5 2485.3,835.5" fill="url(#p14)" />
<polygon points="2578.5,781.5 2628.8,794.5 2628.8,816.9 2578.5,816.9" fill="url(#p16)" />
<polygon points="2597.1,816.9 2628.8,816.9 2628.8,850.4 2604.6,850.4" fill="url(#p14)" />
<polygon points="2665.0,759.0 2670.0,759.0 2670.0,765.0 2665.0,765.0" fill="#00ffff" />
<polygon points="2770.0,785.0 2784.0,785.0 2784.0,790.0 2770.0,790.0" fill="#00ffff" />
<polygon points="2778.0,790.0 2786.0,790.0 2786.0,796.0 2778.0,796.0" fill="#00ffff" />
<polygon points="2760.0,804.0 2769.0,804.0 2769.0,807.0 2760.0,807.0" fill="#00ffff" />
<polygon points="2831.0,772.0 2835.0,772.0 2835.0,779.0 2831.0,779.0" fill="#00ffff" />
<polygon points="2937.0,806.0 2942.0,806.0 2942.0,809.0 2937.0,809.0" fill="#00ffff" />
<polygon points="2956.0,776.0 2959.0,776.0 2959.0,785.0 2956.0,785.0" fill="#00ffff" />
<polygon points="2788.0,851.0 2793.0,851.0 2793.0,856.0 2788.0,856.0" fill="#00ffff" />
<polygon points="3223.0,834.0 3227.0,834.0 3227.0,839.0 3223.0,839.0" fill="#00ffff" />
<polygon points="3576.0,486.8 3587.0,486.8 3587.0,492.0 3585.5,499.0 3585.0,512.0 3583.8,512.0 3580.0,506.0 3579.0,498.0 3576.0,492.0" fill="#00ffff" />
<polygon points="3629.0,486.8 3637.0,486.8 3637.0,515.0 3636.0,515.0 3633.0,503.0 3631.0,495.0 3629.0,492.0" fill="#00ffff" />
</g>
<g clip-path="url(#axclip)">
<polygon points="318.8,839.1 301.8,868.5 335.8,868.5" fill="#ff0000"/>
<polygon points="318.8,793.0 301.8,763.6 335.8,763.6" fill="#ff0000"/>
<polygon points="354.7,840.3 337.7,869.7 371.7,869.7" fill="#ff0000"/>
<polygon points="354.7,814.8 337.7,785.4 371.7,785.4" fill="#ff0000"/>
<polygon points="390.6,841.3 373.6,870.7 407.6,870.7" fill="#ff0000"/>
<polygon points="390.6,822.2 373.6,792.8 407.6,792.8" fill="#ff0000"/>
<polygon points="426.6,841.6 409.6,871.0 443.6,871.0" fill="#ff0000"/>
<polygon points="426.6,834.0 409.6,804.6 443.6,804.6" fill="#ff0000"/>
<polygon points="462.5,838.8 445.5,868.2 479.5,868.2" fill="#ff0000"/>
<polygon points="462.5,819.1 445.5,789.7 479.5,789.7" fill="#ff0000"/>
<polygon points="498.4,813.9 481.4,843.3 515.4,843.3" fill="#ff0000"/>
<polygon points="498.4,817.9 481.4,788.5 515.4,788.5" fill="#ff0000"/>
<polygon points="534.3,838.5 517.3,867.9 551.3,867.9" fill="#ff0000"/>
<polygon points="534.3,824.7 517.3,795.3 551.3,795.3" fill="#ff0000"/>
<polygon points="570.3,840.3 553.3,869.7 587.3,869.7" fill="#ff0000"/>
<polygon points="570.3,834.9 553.3,805.5 587.3,805.5" fill="#ff0000"/>
<polygon points="606.2,842.5 589.2,871.9 623.2,871.9" fill="#ff0000"/>
<polygon points="606.2,854.8 589.2,825.4 623.2,825.4" fill="#ff0000"/>
<polygon points="642.1,859.6 625.1,889.0 659.1,889.0" fill="#ff0000"/>
<polygon points="642.1,862.9 625.1,833.5 659.1,833.5" fill="#ff0000"/>
<polygon points="678.0,862.1 661.0,891.5 695.0,891.5" fill="#ff0000"/>
<polygon points="678.0,879.7 661.0,850.3 695.0,850.3" fill="#ff0000"/>
<polygon points="1390.0,684.1 1373.0,713.5 1407.0,713.5" fill="#ff0000"/>
<polygon points="1390.0,707.3 1373.0,677.9 1407.0,677.9" fill="#ff0000"/>
<polygon points="1426.0,704.3 1409.0,733.7 1443.0,733.7" fill="#ff0000"/>
<polygon points="1426.0,707.3 1409.0,677.9 1443.0,677.9" fill="#ff0000"/>
<polygon points="1461.9,705.9 1444.9,735.3 1478.9,735.3" fill="#ff0000"/>
<polygon points="1461.9,699.5 1444.9,670.1 1478.9,670.1" fill="#ff0000"/>
<polygon points="1497.9,705.9 1480.9,735.3 1514.9,735.3" fill="#ff0000"/>
<polygon points="1497.9,688.1 1480.9,658.7 1514.9,658.7" fill="#ff0000"/>
<polygon points="1533.8,717.7 1516.8,747.1 1550.8,747.1" fill="#ff0000"/>
<polygon points="1533.8,678.7 1516.8,649.3 1550.8,649.3" fill="#ff0000"/>
<polygon points="1569.8,709.9 1552.8,739.3 1586.8,739.3" fill="#ff0000"/>
<polygon points="1569.8,671.9 1552.8,642.5 1586.8,642.5" fill="#ff0000"/>
<polygon points="1605.8,666.4 1588.8,695.8 1622.8,695.8" fill="#ff0000"/>
<polygon points="1605.8,671.9 1588.8,642.5 1622.8,642.5" fill="#ff0000"/>
<polygon points="1375.5,849.3 1358.5,878.7 1392.5,878.7" fill="#ff0000"/>
<polygon points="1390.0,854.5 1377.5,876.1 1402.5,876.1" fill="#fff" stroke="#ff0000" stroke-width="5.2" stroke-linejoin="miter"/>
<polygon points="1390.0,857.1 1373.0,827.7 1407.0,827.7" fill="#ff0000"/>
<polygon points="1426.0,854.5 1413.5,876.1 1438.5,876.1" fill="#fff" stroke="#ff0000" stroke-width="5.2" stroke-linejoin="miter"/>
<polygon points="1426.0,857.1 1409.0,827.7 1443.0,827.7" fill="#ff0000"/>
<polygon points="1461.9,861.0 1449.4,882.6 1474.4,882.6" fill="#fff" stroke="#ff0000" stroke-width="5.2" stroke-linejoin="miter"/>
<polygon points="1461.9,871.7 1444.9,842.3 1478.9,842.3" fill="#ff0000"/>
<polygon points="1569.8,866.5 1557.3,888.1 1582.3,888.1" fill="#fff" stroke="#ff0000" stroke-width="5.2" stroke-linejoin="miter"/>
<polygon points="1569.8,879.3 1557.3,857.7 1582.3,857.7" fill="#fff" stroke="#ff0000" stroke-width="5.2" stroke-linejoin="miter"/>
<polygon points="1605.8,866.5 1593.3,888.1 1618.3,888.1" fill="#fff" stroke="#ff0000" stroke-width="5.2" stroke-linejoin="miter"/>
<polygon points="1605.8,866.5 1593.3,844.9 1618.3,844.9" fill="#fff" stroke="#ff0000" stroke-width="5.2" stroke-linejoin="miter"/>
<polygon points="1641.7,861.3 1624.7,890.7 1658.7,890.7" fill="#ff0000"/>
<polygon points="1641.7,868.2 1624.7,838.8 1658.7,838.8" fill="#ff0000"/>
<polygon points="1677.7,858.8 1660.7,888.2 1694.7,888.2" fill="#ff0000"/>
<polygon points="1677.7,858.9 1660.7,829.5 1694.7,829.5" fill="#ff0000"/>
<polygon points="1713.6,852.3 1696.6,881.7 1730.6,881.7" fill="#ff0000"/>
<polygon points="1713.6,844.2 1696.6,814.8 1730.6,814.8" fill="#ff0000"/>
<polygon points="1821.5,830.1 1804.5,859.5 1838.5,859.5" fill="#ff0000"/>
<polygon points="1821.5,848.9 1804.5,819.5 1838.5,819.5" fill="#ff0000"/>
<polygon points="1857.5,857.3 1845.0,878.9 1870.0,878.9" fill="#fff" stroke="#ff0000" stroke-width="5.2" stroke-linejoin="miter"/>
<polygon points="1857.5,848.9 1840.5,819.5 1874.5,819.5" fill="#ff0000"/>
<polygon points="1857.5,700.0 1840.5,729.4 1874.5,729.4" fill="#ff0000"/>
<polygon points="1857.5,712.9 1840.5,683.5 1874.5,683.5" fill="#ff0000"/>
<polygon points="1893.4,852.1 1876.4,881.5 1910.4,881.5" fill="#ff0000"/>
<polygon points="1893.4,852.0 1876.4,822.6 1910.4,822.6" fill="#ff0000"/>
<polygon points="2001.4,746.5 1984.4,775.9 2018.4,775.9" fill="#ff0000"/>
<polygon points="2001.4,707.6 1984.4,678.2 2018.4,678.2" fill="#ff0000"/>
<polygon points="2037.3,762.7 2020.3,792.1 2054.3,792.1" fill="#ff0000"/>
<polygon points="2037.3,737.1 2020.3,707.7 2054.3,707.7" fill="#ff0000"/>
<polygon points="2073.3,764.6 2056.3,794.0 2090.3,794.0" fill="#ff0000"/>
<polygon points="2073.3,749.5 2056.3,720.1 2090.3,720.1" fill="#ff0000"/>
<polygon points="2109.3,770.5 2092.3,799.9 2126.3,799.9" fill="#ff0000"/>
<polygon points="2109.3,757.0 2092.3,727.6 2126.3,727.6" fill="#ff0000"/>
<polygon points="2145.3,798.4 2128.3,827.8 2162.3,827.8" fill="#ff0000"/>
<polygon points="2145.3,760.1 2128.3,730.7 2162.3,730.7" fill="#ff0000"/>
<polygon points="2181.3,890.6 2164.3,920.0 2198.3,920.0" fill="#ff0000"/>
<polygon points="2181.3,758.9 2164.3,729.5 2198.3,729.5" fill="#ff0000"/>
<polygon points="2217.3,868.9 2200.3,898.3 2234.3,898.3" fill="#ff0000"/>
<polygon points="2217.3,761.0 2200.3,731.6 2234.3,731.6" fill="#ff0000"/>
<polygon points="2253.2,854.6 2236.2,884.0 2270.2,884.0" fill="#ff0000"/>
<polygon points="2253.2,766.3 2236.2,736.9 2270.2,736.9" fill="#ff0000"/>
<polygon points="2289.2,858.0 2272.2,887.4 2306.2,887.4" fill="#ff0000"/>
<polygon points="2289.2,766.3 2272.2,736.9 2306.2,736.9" fill="#ff0000"/>
<polygon points="2325.2,855.9 2308.2,885.3 2342.2,885.3" fill="#ff0000"/>
<polygon points="2325.2,771.7 2308.2,742.3 2342.2,742.3" fill="#ff0000"/>
<polygon points="2361.2,850.3 2344.2,879.7 2378.2,879.7" fill="#ff0000"/>
<polygon points="2361.2,801.7 2344.2,772.3 2378.2,772.3" fill="#ff0000"/>
<polygon points="2397.1,823.6 2380.1,853.0 2414.1,853.0" fill="#ff0000"/>
<polygon points="2397.1,824.7 2380.1,795.3 2414.1,795.3" fill="#ff0000"/>
<polygon points="2432.9,850.3 2415.9,879.7 2449.9,879.7" fill="#ff0000"/>
<polygon points="2432.9,867.6 2415.9,838.2 2449.9,838.2" fill="#ff0000"/>
<polygon points="2468.8,775.1 2451.8,804.5 2485.8,804.5" fill="#ff0000"/>
<polygon points="2468.8,797.4 2451.8,768.0 2485.8,768.0" fill="#ff0000"/>
<polygon points="2504.7,818.6 2487.7,848.0 2521.7,848.0" fill="#ff0000"/>
<polygon points="2504.7,796.7 2487.7,767.3 2521.7,767.3" fill="#ff0000"/>
<polygon points="2540.5,832.9 2523.5,862.3 2557.5,862.3" fill="#ff0000"/>
<polygon points="2540.5,799.9 2523.5,770.5 2557.5,770.5" fill="#ff0000"/>
<polygon points="2576.4,779.8 2559.4,809.2 2593.4,809.2" fill="#ff0000"/>
<polygon points="2576.4,790.5 2559.4,761.1 2593.4,761.1" fill="#ff0000"/>
<polygon points="2612.3,864.3 2595.3,893.7 2629.3,893.7" fill="#ff0000"/>
<polygon points="2612.3,885.9 2595.3,856.5 2629.3,856.5" fill="#ff0000"/>
<polygon points="2719.9,864.3 2702.9,893.7 2736.9,893.7" fill="#ff0000"/>
<polygon points="2719.9,871.9 2702.9,842.5 2736.9,842.5" fill="#ff0000"/>
<polygon points="2755.7,854.9 2738.7,884.3 2772.7,884.3" fill="#ff0000"/>
<polygon points="2755.7,878.1 2738.7,848.7 2772.7,848.7" fill="#ff0000"/>
<polygon points="1325.0,945.3 1308.0,974.7 1342.0,974.7" fill="#ff0000"/>
<path d="M292.4 623.8H345.2M292.4 624.8H345.2M318.8 623.8V624.8" stroke="#0000ff" stroke-width="4.2" fill="none"/>
<circle cx="318.8" cy="624.3" r="16.4" fill="#0000ff"/>
<path d="M328.3 628.4H381.1M328.3 629.4H381.1M354.7 628.4V629.4" stroke="#0000ff" stroke-width="4.2" fill="none"/>
<circle cx="354.7" cy="628.9" r="16.4" fill="#0000ff"/>
<path d="M364.2 644.3H417.0M364.2 645.3H417.0M390.6 644.3V645.3" stroke="#0000ff" stroke-width="4.2" fill="none"/>
<circle cx="390.6" cy="644.8" r="16.4" fill="#0000ff"/>
<path d="M400.2 650.5H453.0M400.2 651.5H453.0M426.6 650.5V651.5" stroke="#0000ff" stroke-width="4.2" fill="none"/>
<circle cx="426.6" cy="651.0" r="16.4" fill="#0000ff"/>
<path d="M436.1 654.8H488.9M436.1 655.8H488.9M462.5 654.8V655.8" stroke="#0000ff" stroke-width="4.2" fill="none"/>
<circle cx="462.5" cy="655.3" r="16.4" fill="#0000ff"/>
<path d="M472.0 682.2H524.8M472.0 683.2H524.8M498.4 682.2V683.2" stroke="#0000ff" stroke-width="4.2" fill="none"/>
<circle cx="498.4" cy="682.7" r="16.4" fill="#0000ff"/>
<path d="M507.9 701.7H560.7M507.9 702.7H560.7M534.3 701.7V702.7" stroke="#0000ff" stroke-width="4.2" fill="none"/>
<circle cx="534.3" cy="702.2" r="16.4" fill="#0000ff"/>
<path d="M543.9 730.1H596.7M543.9 739.5H596.7M570.3 730.1V739.5" stroke="#32cd32" stroke-width="4.2" fill="none"/>
<circle cx="570.3" cy="734.8" r="16.4" fill="#32cd32"/>
<path d="M615.7 763.0H668.5M615.7 768.2H668.5M642.1 763.0V768.2" stroke="#32cd32" stroke-width="4.2" fill="none"/>
<circle cx="642.1" cy="765.6" r="16.4" fill="#32cd32"/>
<path d="M579.8 753.9H632.6M579.8 761.7H632.6M606.2 753.9V761.7" stroke="#0000ff" stroke-width="4.2" fill="none"/>
<circle cx="606.2" cy="757.8" r="16.4" fill="#0000ff"/>
<path d="M651.6 768.6H704.4M651.6 773.8H704.4M678.0 768.6V773.8" stroke="#32cd32" stroke-width="4.2" fill="none"/>
<circle cx="678.0" cy="771.2" r="16.4" fill="#32cd32"/>
<path d="M687.6 769.5H740.4M687.6 774.7H740.4M714.0 769.5V774.7" stroke="#32cd32" stroke-width="4.2" fill="none"/>
<circle cx="714.0" cy="772.1" r="16.4" fill="#32cd32"/>
<path d="M723.5 765.5H776.3M723.5 770.7H776.3M749.9 765.5V770.7" stroke="#32cd32" stroke-width="4.2" fill="none"/>
<circle cx="749.9" cy="768.1" r="16.4" fill="#32cd32"/>
<path d="M759.4 766.1H812.2M759.4 771.3H812.2M785.8 766.1V771.3" stroke="#32cd32" stroke-width="4.2" fill="none"/>
<circle cx="785.8" cy="768.7" r="16.4" fill="#32cd32"/>
<path d="M795.3 768.6H848.1M795.3 773.8H848.1M821.7 768.6V773.8" stroke="#32cd32" stroke-width="4.2" fill="none"/>
<circle cx="821.7" cy="771.2" r="16.4" fill="#32cd32"/>
<path d="M831.3 764.9H884.1M831.3 770.1H884.1M857.7 764.9V770.1" stroke="#32cd32" stroke-width="4.2" fill="none"/>
<circle cx="857.7" cy="767.5" r="16.4" fill="#32cd32"/>
<path d="M867.2 755.5H920.0M867.2 760.7H920.0M893.6 755.5V760.7" stroke="#32cd32" stroke-width="4.2" fill="none"/>
<circle cx="893.6" cy="758.1" r="16.4" fill="#32cd32"/>
<path d="M903.1 753.1H955.9M903.1 758.3H955.9M929.5 753.1V758.3" stroke="#32cd32" stroke-width="4.2" fill="none"/>
<circle cx="929.5" cy="755.7" r="16.4" fill="#32cd32"/>
<path d="M939.0 770.1H991.8M939.0 775.3H991.8M965.4 770.1V775.3" stroke="#32cd32" stroke-width="4.2" fill="none"/>
<circle cx="965.4" cy="772.7" r="16.4" fill="#32cd32"/>
<path d="M975.0 773.0H1027.8M975.0 778.6H1027.8M1001.4 773.0V778.6" stroke="#32cd32" stroke-width="4.2" fill="none"/>
<circle cx="1001.4" cy="775.8" r="16.4" fill="#32cd32"/>
<path d="M1010.9 799.0H1063.7M1010.9 805.4H1063.7M1037.3 799.0V805.4" stroke="#32cd32" stroke-width="4.2" fill="none"/>
<circle cx="1037.3" cy="802.2" r="16.4" fill="#32cd32"/>
<path d="M1046.8 803.1H1099.6M1046.8 809.5H1099.6M1073.2 803.1V809.5" stroke="#32cd32" stroke-width="4.2" fill="none"/>
<circle cx="1073.2" cy="806.3" r="16.4" fill="#32cd32"/>
<path d="M1082.7 709.1H1135.5M1082.7 733.9H1135.5M1109.1 709.1V733.9" stroke="#0000ff" stroke-width="4.2" fill="none"/>
<circle cx="1109.1" cy="721.5" r="16.4" fill="#0000ff"/>
<path d="M1118.7 825.2H1171.5M1118.7 825.8H1171.5M1145.1 825.2V825.8" stroke="#32cd32" stroke-width="4.2" fill="none"/>
<circle cx="1145.1" cy="825.5" r="16.4" fill="#32cd32"/>
<path d="M1154.6 797.3H1207.4M1154.6 810.3H1207.4M1181.0 797.3V810.3" stroke="#0000ff" stroke-width="4.2" fill="none"/>
<circle cx="1181.0" cy="803.8" r="16.4" fill="#0000ff"/>
<path d="M1190.5 703.2H1243.3M1190.5 711.8H1243.3M1216.9 703.2V711.8" stroke="#32cd32" stroke-width="4.2" fill="none"/>
<circle cx="1216.9" cy="707.5" r="16.4" fill="#32cd32"/>
<path d="M1226.4 727.0H1279.2M1226.4 744.0H1279.2M1252.8 727.0V744.0" stroke="#0000ff" stroke-width="4.2" fill="none"/>
<circle cx="1252.8" cy="735.5" r="16.4" fill="#0000ff"/>
<path d="M1262.3 799.4H1315.1M1262.3 805.0H1315.1M1288.7 799.4V805.0" stroke="#32cd32" stroke-width="4.2" fill="none"/>
<circle cx="1288.7" cy="802.2" r="16.4" fill="#32cd32"/>
<path d="M1298.3 828.1H1351.1M1298.3 829.1H1351.1M1324.7 828.1V829.1" stroke="#32cd32" stroke-width="4.2" fill="none"/>
<circle cx="1324.7" cy="828.6" r="16.4" fill="#32cd32"/>
<path d="M1334.2 829.9H1387.0M1334.2 835.1H1387.0M1360.6 829.9V835.1" stroke="#32cd32" stroke-width="4.2" fill="none"/>
<circle cx="1360.6" cy="832.5" r="16.4" fill="#32cd32"/>
<path d="M1349.1 832.4H1401.9M1349.1 837.6H1401.9M1375.5 832.4V837.6" stroke="#32cd32" stroke-width="4.2" fill="none"/>
<circle cx="1375.5" cy="835.0" r="16.4" fill="#32cd32"/>
<path d="M1363.6 840.4H1416.4M1363.6 845.6H1416.4M1390.0 840.4V845.6" stroke="#32cd32" stroke-width="4.2" fill="none"/>
<circle cx="1390.0" cy="843.0" r="16.4" fill="#32cd32"/>
<path d="M1399.6 832.4H1452.4M1399.6 837.6H1452.4M1426.0 832.4V837.6" stroke="#32cd32" stroke-width="4.2" fill="none"/>
<circle cx="1426.0" cy="835.0" r="16.4" fill="#32cd32"/>
<path d="M1435.5 824.2H1488.3M1435.5 829.8H1488.3M1461.9 824.2V829.8" stroke="#32cd32" stroke-width="4.2" fill="none"/>
<circle cx="1461.9" cy="827.0" r="16.4" fill="#32cd32"/>
<path d="M1471.5 799.7H1524.3M1471.5 805.3H1524.3M1497.9 799.7V805.3" stroke="#32cd32" stroke-width="4.2" fill="none"/>
<circle cx="1497.9" cy="802.5" r="16.4" fill="#32cd32"/>
<path d="M1543.4 666.4H1596.2M1543.4 670.8H1596.2M1569.8 666.4V670.8" stroke="#32cd32" stroke-width="4.2" fill="none"/>
<circle cx="1569.8" cy="668.6" r="16.4" fill="#32cd32"/>
<path d="M1579.4 657.9H1632.2M1579.4 663.1H1632.2M1605.8 657.9V663.1" stroke="#32cd32" stroke-width="4.2" fill="none"/>
<circle cx="1605.8" cy="660.5" r="16.4" fill="#32cd32"/>
<path d="M1615.3 791.7H1668.1M1615.3 797.3H1668.1M1641.7 791.7V797.3" stroke="#32cd32" stroke-width="4.2" fill="none"/>
<circle cx="1641.7" cy="794.5" r="16.4" fill="#32cd32"/>
<path d="M1651.3 846.2H1704.1M1651.3 851.4H1704.1M1677.7 846.2V851.4" stroke="#32cd32" stroke-width="4.2" fill="none"/>
<circle cx="1677.7" cy="848.8" r="16.4" fill="#32cd32"/>
<path d="M1687.2 826.4H1740.0M1687.2 831.6H1740.0M1713.6 826.4V831.6" stroke="#32cd32" stroke-width="4.2" fill="none"/>
<circle cx="1713.6" cy="829.0" r="16.4" fill="#32cd32"/>
<path d="M1723.2 832.0H1776.0M1723.2 837.2H1776.0M1749.6 832.0V837.2" stroke="#32cd32" stroke-width="4.2" fill="none"/>
<circle cx="1749.6" cy="834.6" r="16.4" fill="#32cd32"/>
<path d="M1759.2 831.9H1812.0M1759.2 837.1H1812.0M1785.6 831.9V837.1" stroke="#32cd32" stroke-width="4.2" fill="none"/>
<circle cx="1785.6" cy="834.5" r="16.4" fill="#32cd32"/>
<path d="M1795.1 831.3H1847.9M1795.1 836.5H1847.9M1821.5 831.3V836.5" stroke="#32cd32" stroke-width="4.2" fill="none"/>
<circle cx="1821.5" cy="833.9" r="16.4" fill="#32cd32"/>
<path d="M1831.1 838.4H1883.9M1831.1 843.6H1883.9M1857.5 838.4V843.6" stroke="#32cd32" stroke-width="4.2" fill="none"/>
<circle cx="1857.5" cy="841.0" r="16.4" fill="#32cd32"/>
<path d="M1867.0 847.8H1919.8M1867.0 853.0H1919.8M1893.4 847.8V853.0" stroke="#32cd32" stroke-width="4.2" fill="none"/>
<circle cx="1893.4" cy="850.4" r="16.4" fill="#32cd32"/>
<path d="M1903.0 850.9H1955.8M1903.0 856.1H1955.8M1929.4 850.9V856.1" stroke="#32cd32" stroke-width="4.2" fill="none"/>
<circle cx="1929.4" cy="853.5" r="16.4" fill="#32cd32"/>
<path d="M1975.0 760.9H2027.8M1975.0 779.5H2027.8M2001.4 760.9V779.5" stroke="#0000ff" stroke-width="4.2" fill="none"/>
<circle cx="2001.4" cy="770.2" r="16.4" fill="#0000ff"/>
<path d="M2010.9 705.3H2063.8M2010.9 757.2H2063.8M2037.3 705.3V757.2" stroke="#32cd32" stroke-width="4.2" fill="none"/>
<circle cx="2037.3" cy="731.4" r="16.4" fill="#32cd32"/>
<path d="M2046.9 873.0H2099.7M2046.9 885.0H2099.7M2073.3 873.0V885.0" stroke="#32cd32" stroke-width="4.2" fill="none"/>
<circle cx="2073.3" cy="879.0" r="16.4" fill="#32cd32"/>
<path d="M2082.9 827.8H2135.7M2082.9 838.8H2135.7M2109.3 827.8V838.8" stroke="#32cd32" stroke-width="4.2" fill="none"/>
<circle cx="2109.3" cy="833.3" r="16.4" fill="#32cd32"/>
<path d="M2118.9 803.5H2171.7M2118.9 809.1H2171.7M2145.3 803.5V809.1" stroke="#32cd32" stroke-width="4.2" fill="none"/>
<circle cx="2145.3" cy="806.3" r="16.4" fill="#32cd32"/>
<path d="M2154.9 748.4H2207.7M2154.9 753.6H2207.7M2181.3 748.4V753.6" stroke="#32cd32" stroke-width="4.2" fill="none"/>
<circle cx="2181.3" cy="751.0" r="16.4" fill="#32cd32"/>
<path d="M2190.9 741.3H2243.7M2190.9 746.5H2243.7M2217.3 741.3V746.5" stroke="#32cd32" stroke-width="4.2" fill="none"/>
<circle cx="2217.3" cy="743.9" r="16.4" fill="#32cd32"/>
<path d="M2226.8 745.9H2279.7M2226.8 751.1H2279.7M2253.2 745.9V751.1" stroke="#32cd32" stroke-width="4.2" fill="none"/>
<circle cx="2253.2" cy="748.5" r="16.4" fill="#32cd32"/>
<path d="M2262.8 753.7H2315.6M2262.8 758.9H2315.6M2289.2 753.7V758.9" stroke="#32cd32" stroke-width="4.2" fill="none"/>
<circle cx="2289.2" cy="756.3" r="16.4" fill="#32cd32"/>
<path d="M2298.8 749.4H2351.6M2298.8 754.6H2351.6M2325.2 749.4V754.6" stroke="#32cd32" stroke-width="4.2" fill="none"/>
<circle cx="2325.2" cy="752.0" r="16.4" fill="#32cd32"/>
<path d="M2334.8 770.1H2387.6M2334.8 775.3H2387.6M2361.2 770.1V775.3" stroke="#32cd32" stroke-width="4.2" fill="none"/>
<circle cx="2361.2" cy="772.7" r="16.4" fill="#32cd32"/>
<path d="M2370.7 782.6H2423.5M2370.7 787.8H2423.5M2397.1 782.6V787.8" stroke="#32cd32" stroke-width="4.2" fill="none"/>
<circle cx="2397.1" cy="785.2" r="16.4" fill="#32cd32"/>
<path d="M2406.5 795.9H2459.3M2406.5 801.1H2459.3M2432.9 795.9V801.1" stroke="#32cd32" stroke-width="4.2" fill="none"/>
<circle cx="2432.9" cy="798.5" r="16.4" fill="#32cd32"/>
<path d="M2442.4 774.2H2495.2M2442.4 779.4H2495.2M2468.8 774.2V779.4" stroke="#32cd32" stroke-width="4.2" fill="none"/>
<circle cx="2468.8" cy="776.8" r="16.4" fill="#32cd32"/>
<path d="M2478.3 764.9H2531.1M2478.3 770.1H2531.1M2504.7 764.9V770.1" stroke="#32cd32" stroke-width="4.2" fill="none"/>
<circle cx="2504.7" cy="767.5" r="16.4" fill="#32cd32"/>
<path d="M2514.1 764.9H2566.9M2514.1 770.1H2566.9M2540.5 764.9V770.1" stroke="#32cd32" stroke-width="4.2" fill="none"/>
<circle cx="2540.5" cy="767.5" r="16.4" fill="#32cd32"/>
<path d="M2550.0 766.1H2602.8M2550.0 771.3H2602.8M2576.4 766.1V771.3" stroke="#32cd32" stroke-width="4.2" fill="none"/>
<circle cx="2576.4" cy="768.7" r="16.4" fill="#32cd32"/>
<path d="M2585.9 777.3H2638.7M2585.9 782.5H2638.7M2612.3 777.3V782.5" stroke="#32cd32" stroke-width="4.2" fill="none"/>
<circle cx="2612.3" cy="779.9" r="16.4" fill="#32cd32"/>
<path d="M2621.7 777.9H2674.5M2621.7 783.1H2674.5M2648.1 777.9V783.1" stroke="#32cd32" stroke-width="4.2" fill="none"/>
<circle cx="2648.1" cy="780.5" r="16.4" fill="#32cd32"/>
<path d="M2657.6 809.7H2710.4M2657.6 814.7H2710.4M2684.0 809.7V814.7" stroke="#32cd32" stroke-width="4.2" fill="none"/>
<circle cx="2684.0" cy="812.2" r="16.4" fill="#32cd32"/>
<path d="M2693.5 865.8H2746.3M2693.5 871.0H2746.3M2719.9 865.8V871.0" stroke="#32cd32" stroke-width="4.2" fill="none"/>
<circle cx="2719.9" cy="868.4" r="16.4" fill="#32cd32"/>
<path d="M2729.3 859.3H2782.1M2729.3 864.5H2782.1M2755.7 859.3V864.5" stroke="#32cd32" stroke-width="4.2" fill="none"/>
<circle cx="2755.7" cy="861.9" r="16.4" fill="#32cd32"/>
<path d="M2765.2 874.8H2818.0M2765.2 880.0H2818.0M2791.6 874.8V880.0" stroke="#32cd32" stroke-width="4.2" fill="none"/>
<circle cx="2791.6" cy="877.4" r="16.4" fill="#32cd32"/>
<path d="M1507.4 597.9H1560.2M1507.4 661.5H1560.2M1533.8 597.9V661.5" stroke="#0000ff" stroke-width="4.2" fill="none"/>
<circle cx="1533.8" cy="630" r="14" fill="#fff" stroke="#0000ff" stroke-width="5.6"/>
<path d="M1507.4 831.0H1560.2M1507.4 884.0H1560.2M1533.8 831.0V884.0" stroke="#32cd32" stroke-width="4.2" fill="none"/>
<circle cx="1533.8" cy="857.5" r="14" fill="#fff" stroke="#32cd32" stroke-width="5.6"/>
</g>
<polyline points="269.0,538.2 726.0,538.2 959.0,538.7 1173.0,537.8 1331.0,532.6 1400.0,531.9 1494.0,531.0 1581.5,528.9" fill="none" stroke="#000" stroke-width="4.0" stroke-linejoin="round"/>
<polyline points="1690.4,510.5 1728.8,496.9 1767.2,484.9 1827.0,475.5 1912.4,464.0 1997.8,461.4 2055.5,459.7 2151.6,471.2 2155.8,481.0 2172.0,486.2 2173.8,496.0 2181.4,499.4 2164.4,510.5 2182.3,528.0 2202.8,533.6 2254.0,541.7 2339.4,548.1 2500.0,548.5 2872.7,543.5 3229.8,534.2 3400.0,534.2 3637.0,538.8" fill="none" stroke="#000" stroke-width="4.0" stroke-linejoin="round"/>
<polyline points="269.0,668.7 586.0,667.7 726.0,664.0 945.0,659.3 1098.0,662.6 1331.0,665.4 1460.0,666.3 1564.0,666.4" fill="none" stroke="#000" stroke-width="4.0" stroke-linejoin="round"/>
<polyline points="1671.0,676.5 1768.7,705.3 1846.3,712.2 1913.0,716.8 1970.6,712.2 2032.7,705.3 2125.8,692.0 2210.6,682.1 2288.2,668.5 2338.7,661.9 2385.2,659.6 2482.3,657.3 2927.0,654.8 3050.0,655.7 3423.0,656.3 3637.0,660.0" fill="none" stroke="#000" stroke-width="4.0" stroke-linejoin="round"/>
<polyline points="269.0,856.0 477.0,866.0 695.0,867.5 960.0,863.7 1200.0,865.5 1562.0,869.0" fill="none" stroke="#000" stroke-width="4.0" stroke-linejoin="round"/>
<polyline points="1668.0,869.0 1877.0,867.5 2001.6,865.3 2360.0,865.5 2670.0,863.7 3050.0,863.7 3454.0,861.9 3637.0,857.5" fill="none" stroke="#000" stroke-width="4.0" stroke-linejoin="round"/>
<polyline points="269.0,904.7 600.0,903.0 960.0,901.6 1270.0,905.7 1561.0,910.3" fill="none" stroke="#000" stroke-width="4.0" stroke-linejoin="round"/>
<polyline points="1672.0,911.0 1815.0,910.3 1952.0,905.7 2157.0,904.0 2360.0,904.1 2748.0,903.5 2795.0,901.6 3050.0,901.0 3174.0,898.5 3438.0,898.5 3637.0,902.2" fill="none" stroke="#000" stroke-width="4.0" stroke-linejoin="round"/>
<text class="lib" x="1637" y="547" font-size="58.33" text-anchor="middle" transform="rotate(-11 1637 526.8)">230</text>
<text class="lib" x="1617.5" y="686" font-size="58.33" text-anchor="middle">250</text>
<text class="lib" x="1614.3" y="889.5" font-size="58.33" text-anchor="middle">273</text>
<text class="lib" x="1614.3" y="932" font-size="58.33" text-anchor="middle">279</text>
<line x1="266.5" y1="957.0" x2="347" y2="957.0" stroke="#000" stroke-width="6"/>
<line x1="266.5" y1="851.4" x2="347" y2="851.4" stroke="#000" stroke-width="6"/>
<line x1="266.5" y1="745.8" x2="347" y2="745.8" stroke="#000" stroke-width="6"/>
<line x1="266.5" y1="640.1" x2="347" y2="640.1" stroke="#000" stroke-width="6"/>
<line x1="266.5" y1="534.5" x2="347" y2="534.5" stroke="#000" stroke-width="6"/>
<line x1="266.5" y1="428.9" x2="347" y2="428.9" stroke="#000" stroke-width="6"/>
<line x1="266.5" y1="323.2" x2="347" y2="323.2" stroke="#000" stroke-width="6"/>
<line x1="266.5" y1="217.6" x2="347" y2="217.6" stroke="#000" stroke-width="6"/>
<line x1="266.5" y1="112.0" x2="347" y2="112.0" stroke="#000" stroke-width="6"/>
<line x1="266.5" y1="957.0" x2="266.5" y2="894" stroke="#000" stroke-width="5.5"/>
<line x1="336.7" y1="957.0" x2="336.7" y2="924" stroke="#000" stroke-width="6"/>
<line x1="406.9" y1="957.0" x2="406.9" y2="924" stroke="#000" stroke-width="6"/>
<line x1="477.2" y1="957.0" x2="477.2" y2="924" stroke="#000" stroke-width="6"/>
<line x1="547.4" y1="957.0" x2="547.4" y2="894" stroke="#000" stroke-width="5.5"/>
<line x1="617.6" y1="957.0" x2="617.6" y2="924" stroke="#000" stroke-width="6"/>
<line x1="687.8" y1="957.0" x2="687.8" y2="924" stroke="#000" stroke-width="6"/>
<line x1="758.0" y1="957.0" x2="758.0" y2="924" stroke="#000" stroke-width="6"/>
<line x1="828.2" y1="957.0" x2="828.2" y2="894" stroke="#000" stroke-width="5.5"/>
<line x1="898.5" y1="957.0" x2="898.5" y2="924" stroke="#000" stroke-width="6"/>
<line x1="968.7" y1="957.0" x2="968.7" y2="924" stroke="#000" stroke-width="6"/>
<line x1="1038.9" y1="957.0" x2="1038.9" y2="924" stroke="#000" stroke-width="6"/>
<line x1="1109.1" y1="957.0" x2="1109.1" y2="894" stroke="#000" stroke-width="5.5"/>
<line x1="1179.3" y1="957.0" x2="1179.3" y2="924" stroke="#000" stroke-width="6"/>
<line x1="1249.6" y1="957.0" x2="1249.6" y2="924" stroke="#000" stroke-width="6"/>
<line x1="1319.8" y1="957.0" x2="1319.8" y2="924" stroke="#000" stroke-width="6"/>
<line x1="1390.0" y1="957.0" x2="1390.0" y2="894" stroke="#000" stroke-width="5.5"/>
<line x1="1460.2" y1="957.0" x2="1460.2" y2="924" stroke="#000" stroke-width="6"/>
<line x1="1530.4" y1="957.0" x2="1530.4" y2="924" stroke="#000" stroke-width="6"/>
<line x1="1600.7" y1="957.0" x2="1600.7" y2="924" stroke="#000" stroke-width="6"/>
<line x1="1670.9" y1="957.0" x2="1670.9" y2="894" stroke="#000" stroke-width="5.5"/>
<line x1="1741.1" y1="957.0" x2="1741.1" y2="924" stroke="#000" stroke-width="6"/>
<line x1="1811.3" y1="957.0" x2="1811.3" y2="924" stroke="#000" stroke-width="6"/>
<line x1="1881.5" y1="957.0" x2="1881.5" y2="924" stroke="#000" stroke-width="6"/>
<line x1="1951.8" y1="957.0" x2="1951.8" y2="894" stroke="#000" stroke-width="5.5"/>
<line x1="2022.0" y1="957.0" x2="2022.0" y2="924" stroke="#000" stroke-width="6"/>
<line x1="2092.2" y1="957.0" x2="2092.2" y2="924" stroke="#000" stroke-width="6"/>
<line x1="2162.4" y1="957.0" x2="2162.4" y2="924" stroke="#000" stroke-width="6"/>
<line x1="2232.6" y1="957.0" x2="2232.6" y2="894" stroke="#000" stroke-width="5.5"/>
<line x1="2302.8" y1="957.0" x2="2302.8" y2="924" stroke="#000" stroke-width="6"/>
<line x1="2373.1" y1="957.0" x2="2373.1" y2="924" stroke="#000" stroke-width="6"/>
<line x1="2443.3" y1="957.0" x2="2443.3" y2="924" stroke="#000" stroke-width="6"/>
<line x1="2513.5" y1="957.0" x2="2513.5" y2="894" stroke="#000" stroke-width="5.5"/>
<line x1="2583.7" y1="957.0" x2="2583.7" y2="924" stroke="#000" stroke-width="6"/>
<line x1="2653.9" y1="957.0" x2="2653.9" y2="924" stroke="#000" stroke-width="6"/>
<line x1="2724.2" y1="957.0" x2="2724.2" y2="924" stroke="#000" stroke-width="6"/>
<line x1="2794.4" y1="957.0" x2="2794.4" y2="894" stroke="#000" stroke-width="5.5"/>
<line x1="2864.6" y1="957.0" x2="2864.6" y2="924" stroke="#000" stroke-width="6"/>
<line x1="2934.8" y1="957.0" x2="2934.8" y2="924" stroke="#000" stroke-width="6"/>
<line x1="3005.0" y1="957.0" x2="3005.0" y2="924" stroke="#000" stroke-width="6"/>
<line x1="3075.2" y1="957.0" x2="3075.2" y2="894" stroke="#000" stroke-width="5.5"/>
<line x1="3145.5" y1="957.0" x2="3145.5" y2="924" stroke="#000" stroke-width="6"/>
<line x1="3215.7" y1="957.0" x2="3215.7" y2="924" stroke="#000" stroke-width="6"/>
<line x1="3285.9" y1="957.0" x2="3285.9" y2="924" stroke="#000" stroke-width="6"/>
<line x1="3356.1" y1="957.0" x2="3356.1" y2="894" stroke="#000" stroke-width="5.5"/>
<line x1="3426.3" y1="957.0" x2="3426.3" y2="924" stroke="#000" stroke-width="6"/>
<line x1="3496.6" y1="957.0" x2="3496.6" y2="924" stroke="#000" stroke-width="6"/>
<line x1="3566.8" y1="957.0" x2="3566.8" y2="924" stroke="#000" stroke-width="6"/>
<line x1="3637.0" y1="957.0" x2="3637.0" y2="894" stroke="#000" stroke-width="5.5"/>
<line x1="266.5" y1="109" x2="266.5" y2="960" stroke="#000" stroke-width="6.25"/>
<line x1="263.4" y1="957.0" x2="3640.1" y2="957.0" stroke="#000" stroke-width="6.25"/>
<text x="232" y="982.0" font-size="66.67" text-anchor="end">0.23</text>
<text x="232" y="876.4" font-size="66.67" text-anchor="end">2.46</text>
<text x="232" y="770.8" font-size="66.67" text-anchor="end">4.69</text>
<text x="232" y="665.1" font-size="66.67" text-anchor="end">6.92</text>
<text x="232" y="559.5" font-size="66.67" text-anchor="end">9.15</text>
<text x="232" y="453.9" font-size="66.67" text-anchor="end">11.3</text>
<text x="232" y="348.2" font-size="66.67" text-anchor="end">13.6</text>
<text x="232" y="242.6" font-size="66.67" text-anchor="end">15.8</text>
<text x="232" y="137.0" font-size="66.67" text-anchor="end">18.0</text>
<text x="266.5" y="1035.5" font-size="75" text-anchor="middle">0</text>
<text x="547.4" y="1035.5" font-size="75" text-anchor="middle">2</text>
<text x="828.2" y="1035.5" font-size="75" text-anchor="middle">4</text>
<text x="1109.1" y="1035.5" font-size="75" text-anchor="middle">6</text>
<text x="1390.0" y="1035.5" font-size="75" text-anchor="middle">8</text>
<text x="1670.9" y="1035.5" font-size="75" text-anchor="middle">10</text>
<text x="1951.8" y="1035.5" font-size="75" text-anchor="middle">12</text>
<text x="2232.6" y="1035.5" font-size="75" text-anchor="middle">14</text>
<text x="2513.5" y="1035.5" font-size="75" text-anchor="middle">16</text>
<text x="2794.4" y="1035.5" font-size="75" text-anchor="middle">18</text>
<text x="3075.2" y="1035.5" font-size="75" text-anchor="middle">20</text>
<text x="3356.1" y="1035.5" font-size="75" text-anchor="middle">22</text>
<text x="3637.0" y="1035.5" font-size="75" text-anchor="middle">24</text>
<text x="1951.7" y="1116" font-size="75" text-anchor="middle">Time (UTC)</text>
<text x="36" y="534.5" font-size="66.67" text-anchor="middle" transform="rotate(-90 36 534.5)">Height AMSL (km)</text>
<text class="lib" x="1953.7" y="76.3" font-size="100" letter-spacing="0.4" text-anchor="middle">Bucharest: 2025/10/09</text>
<defs><linearGradient id="cb" x1="0" x2="1" y1="0" y2="0"><stop offset="0" stop-color="#ffffff"/><stop offset="0.3333" stop-color="#ffb6c1"/><stop offset="0.6667" stop-color="#00ffff"/><stop offset="1" stop-color="#d3d3d3"/></linearGradient></defs>
<rect x="266.5" y="1144" width="3370.5" height="56" fill="url(#cb)"/>
<line x1="266.5" y1="1200" x2="266.5" y2="1183" stroke="#000" stroke-width="6.25"/>
<line x1="378.9" y1="1200" x2="378.9" y2="1190" stroke="#000" stroke-width="6"/>
<line x1="491.2" y1="1200" x2="491.2" y2="1190" stroke="#000" stroke-width="6"/>
<line x1="603.5" y1="1200" x2="603.5" y2="1190" stroke="#000" stroke-width="6"/>
<line x1="715.9" y1="1200" x2="715.9" y2="1190" stroke="#000" stroke-width="6"/>
<line x1="828.2" y1="1200" x2="828.2" y2="1190" stroke="#000" stroke-width="6"/>
<line x1="940.6" y1="1200" x2="940.6" y2="1190" stroke="#000" stroke-width="6"/>
<line x1="1053.0" y1="1200" x2="1053.0" y2="1190" stroke="#000" stroke-width="6"/>
<line x1="1165.3" y1="1200" x2="1165.3" y2="1190" stroke="#000" stroke-width="6"/>
<line x1="1277.7" y1="1200" x2="1277.7" y2="1190" stroke="#000" stroke-width="6"/>
<line x1="1390.0" y1="1200" x2="1390.0" y2="1183" stroke="#000" stroke-width="6.25"/>
<line x1="1502.3" y1="1200" x2="1502.3" y2="1190" stroke="#000" stroke-width="6"/>
<line x1="1614.7" y1="1200" x2="1614.7" y2="1190" stroke="#000" stroke-width="6"/>
<line x1="1727.0" y1="1200" x2="1727.0" y2="1190" stroke="#000" stroke-width="6"/>
<line x1="1839.4" y1="1200" x2="1839.4" y2="1190" stroke="#000" stroke-width="6"/>
<line x1="1951.8" y1="1200" x2="1951.8" y2="1190" stroke="#000" stroke-width="6"/>
<line x1="2064.1" y1="1200" x2="2064.1" y2="1190" stroke="#000" stroke-width="6"/>
<line x1="2176.4" y1="1200" x2="2176.4" y2="1190" stroke="#000" stroke-width="6"/>
<line x1="2288.8" y1="1200" x2="2288.8" y2="1190" stroke="#000" stroke-width="6"/>
<line x1="2401.2" y1="1200" x2="2401.2" y2="1190" stroke="#000" stroke-width="6"/>
<line x1="2513.5" y1="1200" x2="2513.5" y2="1183" stroke="#000" stroke-width="6.25"/>
<line x1="2625.8" y1="1200" x2="2625.8" y2="1190" stroke="#000" stroke-width="6"/>
<line x1="2738.2" y1="1200" x2="2738.2" y2="1190" stroke="#000" stroke-width="6"/>
<line x1="2850.6" y1="1200" x2="2850.6" y2="1190" stroke="#000" stroke-width="6"/>
<line x1="2962.9" y1="1200" x2="2962.9" y2="1190" stroke="#000" stroke-width="6"/>
<line x1="3075.2" y1="1200" x2="3075.2" y2="1190" stroke="#000" stroke-width="6"/>
<line x1="3187.6" y1="1200" x2="3187.6" y2="1190" stroke="#000" stroke-width="6"/>
<line x1="3299.9" y1="1200" x2="3299.9" y2="1190" stroke="#000" stroke-width="6"/>
<line x1="3412.3" y1="1200" x2="3412.3" y2="1190" stroke="#000" stroke-width="6"/>
<line x1="3524.7" y1="1200" x2="3524.7" y2="1190" stroke="#000" stroke-width="6"/>
<line x1="3637.0" y1="1200" x2="3637.0" y2="1183" stroke="#000" stroke-width="6.25"/>
<line x1="263.4" y1="1200" x2="3640.1" y2="1200" stroke="#000" stroke-width="6.25"/>
<text x="257.3" y="1263.3" font-size="58.33" text-anchor="middle">Clear</text>
<text x="1390.0" y="1261.3" font-size="58.33" text-anchor="middle">Water</text>
<text x="2513.5" y="1261.3" font-size="58.33" text-anchor="middle">Ice</text>
<text x="3637.0" y="1262.5" font-size="58.33" text-anchor="middle">Other</text>
<rect x="249.0" y="1313.0" width="651.0" height="248.0" fill="#fff" stroke="#000" stroke-width="6.25"/>
<circle cx="287" cy="1384" r="16.9" fill="#32cd32"/>
<path d="M272.0 1464.6L302.0 1494.6M272.0 1494.6L302.0 1464.6" stroke="#32cd32" stroke-width="6.25" fill="none"/>
<text x="323" y="1405.5" font-size="58.33">SEV-OCA SL Wat</text>
<text x="323" y="1502.7" font-size="58.33">OCA High Err Wat</text>
<rect x="994.0" y="1313.0" width="618.0" height="248.0" fill="#fff" stroke="#000" stroke-width="6.25"/>
<circle cx="1032" cy="1384" r="16.9" fill="#0000ff"/>
<path d="M1017.0 1464.6L1047.0 1494.6M1017.0 1494.6L1047.0 1464.6" stroke="#0000ff" stroke-width="6.25" fill="none"/>
<text x="1068" y="1405.5" font-size="58.33">SEV-OCA SL Ice</text>
<text x="1068" y="1502.7" font-size="58.33">OCA High Err Ice</text>
<rect x="2328.0" y="1313.0" width="559.5" height="402.0" fill="#fff" stroke="#000" stroke-width="6.25"/>
<polygon points="2365.0,1364.3 2348.0,1393.7 2382.0,1393.7" fill="#ff0000"/>
<polygon points="2365.0,1489.7 2348.0,1460.3 2382.0,1460.3" fill="#ff0000"/>
<polygon points="2365.0,1542.5 2352.5,1564.1 2377.5,1564.1" fill="#fff" stroke="#ff0000" stroke-width="5.2" stroke-linejoin="miter"/>
<polygon points="2365.0,1657.5 2352.5,1635.9 2377.5,1635.9" fill="#fff" stroke="#ff0000" stroke-width="5.2" stroke-linejoin="miter"/>
<text x="2402" y="1405.3" font-size="58.33">ACTRIS CBH</text>
<text x="2402" y="1492.0" font-size="58.33">ACTRIS CTH</text>
<text x="2402" y="1578.8" font-size="58.33">ACTRIS CBH BL</text>
<text x="2402" y="1665.5" font-size="58.33">ACTRIS CTH BL</text>
</svg>
</body></html>
